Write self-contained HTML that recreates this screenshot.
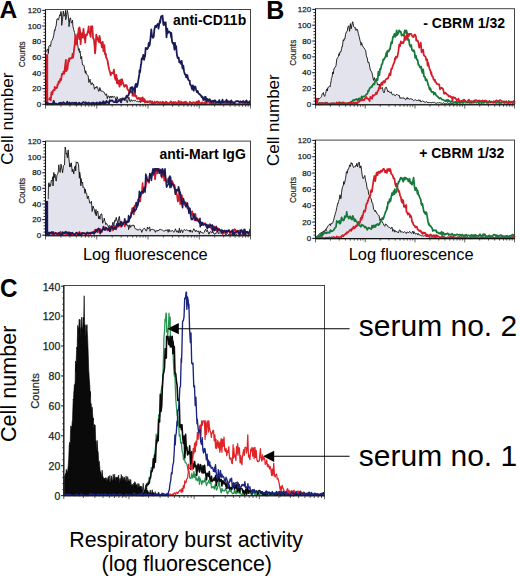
<!DOCTYPE html><html><head><meta charset="utf-8"><style>html,body{margin:0;padding:0;background:#fff;}svg{display:block;}</style></head><body><svg width="520" height="578" viewBox="0 0 520 578" font-family='"Liberation Sans", sans-serif'>
<rect width="520" height="578" fill="#fff"/>
<path d="M46.50,104.30 L46.50,51.70 L47.30,49.19 L48.10,49.36 L48.30,53.66 L48.90,46.01 L49.70,45.42 L50.50,46.40 L51.30,41.36 L52.10,40.24 L52.90,38.70 L53.70,35.47 L54.50,29.79 L55.20,30.40 L55.30,28.14 L56.10,25.99 L56.90,19.16 L57.50,18.64 L57.70,19.43 L58.50,19.73 L59.30,16.54 L59.80,14.75 L60.10,16.07 L60.90,11.52 L61.50,13.19 L61.70,25.35 L62.50,19.81 L63.30,11.02 L64.10,16.25 L64.30,15.14 L64.90,15.20 L65.60,10.40 L65.70,19.75 L66.50,16.16 L67.30,10.40 L67.50,11.26 L68.10,14.28 L68.90,22.35 L69.00,26.68 L69.70,19.20 L70.50,17.85 L71.30,23.13 L72.10,21.99 L72.50,20.27 L72.90,26.23 L73.70,29.50 L74.50,32.50 L75.30,36.31 L76.00,41.12 L76.10,38.13 L76.90,39.99 L77.70,44.40 L78.50,50.38 L79.30,48.70 L79.40,52.49 L80.10,51.05 L80.90,59.05 L81.70,56.50 L81.80,59.28 L82.50,64.80 L83.30,65.12 L83.50,64.89 L84.10,66.05 L84.90,71.28 L85.50,73.22 L85.70,70.71 L86.50,74.31 L87.30,74.83 L88.10,75.59 L88.90,82.47 L89.70,80.40 L90.00,79.17 L90.50,82.78 L91.30,84.70 L92.10,82.64 L92.90,84.54 L93.70,84.31 L94.00,86.93 L94.50,89.22 L95.30,87.11 L96.10,88.09 L96.90,86.30 L97.70,87.71 L98.50,91.26 L99.30,90.86 L99.80,87.53 L100.10,88.19 L100.90,91.24 L101.70,91.00 L102.50,91.11 L103.30,91.92 L104.10,92.14 L104.90,93.91 L105.50,95.05 L105.70,95.35 L106.50,93.73 L107.30,98.68 L108.10,95.95 L108.90,95.97 L109.70,98.23 L110.50,96.08 L111.30,97.66 L112.10,95.93 L112.90,97.52 L113.70,96.78 L114.50,96.38 L115.30,97.74 L116.10,99.58 L116.90,100.63 L117.00,96.69 L117.70,99.03 L118.50,99.80 L119.30,98.88 L120.10,99.36 L120.90,98.20 L121.70,99.25 L122.50,99.36 L123.30,100.29 L124.10,98.99 L124.80,100.80 L124.90,98.84 L125.70,97.94 L126.50,101.53 L127.30,102.67 L128.10,99.24 L128.90,97.15 L129.70,101.23 L130.50,101.58 L131.30,99.61 L132.10,101.27 L132.50,100.94 L132.90,100.81 L133.70,99.92 L134.50,101.02 L135.30,100.35 L136.10,100.92 L136.90,101.71 L137.70,101.22 L138.50,101.96 L139.30,101.03 L140.10,102.28 L140.90,102.31 L141.70,99.77 L142.50,101.39 L143.30,101.47 L144.00,100.97 L144.10,101.92 L144.90,101.80 L145.70,101.24 L146.50,101.46 L147.30,102.95 L148.10,101.10 L148.90,102.55 L149.70,103.07 L150.50,102.99 L151.30,102.59 L152.10,100.82 L152.90,103.47 L153.70,102.34 L154.50,104.30 L155.30,102.64 L156.10,101.94 L156.90,103.01 L157.70,103.42 L158.50,102.78 L159.30,102.48 L160.00,102.59 L160.10,101.52 L160.90,102.99 L161.70,103.67 L162.50,103.32 L163.30,103.31 L164.10,103.20 L164.90,103.34 L165.70,103.21 L166.50,104.30 L167.30,102.77 L168.10,103.88 L168.90,104.30 L169.70,103.03 L170.50,102.55 L171.30,103.20 L172.10,103.48 L172.90,104.30 L173.70,101.58 L174.50,103.06 L175.30,104.30 L176.10,104.30 L176.90,103.73 L177.70,104.30 L178.50,103.73 L179.30,104.19 L180.00,103.09 L180.10,103.27 L180.90,104.30 L181.70,103.89 L182.50,104.30 L183.30,103.19 L184.10,103.82 L184.90,103.57 L185.70,104.30 L186.50,102.74 L187.30,102.62 L188.10,104.30 L188.90,103.71 L189.70,104.30 L190.50,103.98 L191.30,104.30 L192.10,102.76 L192.90,104.30 L193.70,104.18 L194.50,103.67 L195.30,104.30 L196.10,104.15 L196.90,104.30 L197.70,104.09 L198.50,104.30 L199.30,104.30 L200.10,104.15 L200.90,104.24 L201.70,103.99 L202.50,104.22 L203.30,103.56 L204.10,104.25 L204.90,104.13 L205.70,104.30 L206.50,104.30 L207.30,104.30 L208.10,103.74 L208.90,104.30 L209.70,104.30 L210.50,103.86 L211.30,103.84 L212.10,104.30 L212.90,104.30 L213.70,103.84 L214.50,103.94 L215.30,104.30 L216.10,103.64 L216.90,104.30 L217.70,104.30 L218.50,104.07 L219.30,104.24 L220.10,104.01 L220.90,104.30 L221.70,103.06 L222.50,104.30 L223.30,104.30 L224.10,103.79 L224.90,104.30 L225.70,103.97 L226.50,104.30 L227.30,104.21 L228.10,104.03 L228.90,104.30 L229.70,103.80 L230.50,104.30 L231.30,104.30 L232.10,104.16 L232.90,103.95 L233.70,104.30 L234.50,104.30 L235.30,103.87 L236.10,104.30 L236.90,104.30 L237.70,104.21 L238.50,104.30 L239.30,104.22 L240.10,104.27 L240.90,103.76 L241.70,104.30 L242.50,104.30 L243.30,104.09 L244.10,104.30 L244.90,102.65 L245.70,104.30 L246.50,104.30 L247.30,103.85 L248.10,104.30 L248.90,104.30 L249.70,104.00 L250.00,103.90 L250.00,104.30 Z" fill="#e3e3ed" stroke="none"/>
<path d="M46.50,51.70 L47.30,49.19 L48.10,49.36 L48.30,53.66 L48.90,46.01 L49.70,45.42 L50.50,46.40 L51.30,41.36 L52.10,40.24 L52.90,38.70 L53.70,35.47 L54.50,29.79 L55.20,30.40 L55.30,28.14 L56.10,25.99 L56.90,19.16 L57.50,18.64 L57.70,19.43 L58.50,19.73 L59.30,16.54 L59.80,14.75 L60.10,16.07 L60.90,11.52 L61.50,13.19 L61.70,25.35 L62.50,19.81 L63.30,11.02 L64.10,16.25 L64.30,15.14 L64.90,15.20 L65.60,10.40 L65.70,19.75 L66.50,16.16 L67.30,10.40 L67.50,11.26 L68.10,14.28 L68.90,22.35 L69.00,26.68 L69.70,19.20 L70.50,17.85 L71.30,23.13 L72.10,21.99 L72.50,20.27 L72.90,26.23 L73.70,29.50 L74.50,32.50 L75.30,36.31 L76.00,41.12 L76.10,38.13 L76.90,39.99 L77.70,44.40 L78.50,50.38 L79.30,48.70 L79.40,52.49 L80.10,51.05 L80.90,59.05 L81.70,56.50 L81.80,59.28 L82.50,64.80 L83.30,65.12 L83.50,64.89 L84.10,66.05 L84.90,71.28 L85.50,73.22 L85.70,70.71 L86.50,74.31 L87.30,74.83 L88.10,75.59 L88.90,82.47 L89.70,80.40 L90.00,79.17 L90.50,82.78 L91.30,84.70 L92.10,82.64 L92.90,84.54 L93.70,84.31 L94.00,86.93 L94.50,89.22 L95.30,87.11 L96.10,88.09 L96.90,86.30 L97.70,87.71 L98.50,91.26 L99.30,90.86 L99.80,87.53 L100.10,88.19 L100.90,91.24 L101.70,91.00 L102.50,91.11 L103.30,91.92 L104.10,92.14 L104.90,93.91 L105.50,95.05 L105.70,95.35 L106.50,93.73 L107.30,98.68 L108.10,95.95 L108.90,95.97 L109.70,98.23 L110.50,96.08 L111.30,97.66 L112.10,95.93 L112.90,97.52 L113.70,96.78 L114.50,96.38 L115.30,97.74 L116.10,99.58 L116.90,100.63 L117.00,96.69 L117.70,99.03 L118.50,99.80 L119.30,98.88 L120.10,99.36 L120.90,98.20 L121.70,99.25 L122.50,99.36 L123.30,100.29 L124.10,98.99 L124.80,100.80 L124.90,98.84 L125.70,97.94 L126.50,101.53 L127.30,102.67 L128.10,99.24 L128.90,97.15 L129.70,101.23 L130.50,101.58 L131.30,99.61 L132.10,101.27 L132.50,100.94 L132.90,100.81 L133.70,99.92 L134.50,101.02 L135.30,100.35 L136.10,100.92 L136.90,101.71 L137.70,101.22 L138.50,101.96 L139.30,101.03 L140.10,102.28 L140.90,102.31 L141.70,99.77 L142.50,101.39 L143.30,101.47 L144.00,100.97 L144.10,101.92 L144.90,101.80 L145.70,101.24 L146.50,101.46 L147.30,102.95 L148.10,101.10 L148.90,102.55 L149.70,103.07 L150.50,102.99 L151.30,102.59 L152.10,100.82 L152.90,103.47 L153.70,102.34 L154.50,104.30 L155.30,102.64 L156.10,101.94 L156.90,103.01 L157.70,103.42 L158.50,102.78 L159.30,102.48 L160.00,102.59 L160.10,101.52 L160.90,102.99 L161.70,103.67 L162.50,103.32 L163.30,103.31 L164.10,103.20 L164.90,103.34 L165.70,103.21 L166.50,104.30 L167.30,102.77 L168.10,103.88 L168.90,104.30 L169.70,103.03 L170.50,102.55 L171.30,103.20 L172.10,103.48 L172.90,104.30 L173.70,101.58 L174.50,103.06 L175.30,104.30 L176.10,104.30 L176.90,103.73 L177.70,104.30 L178.50,103.73 L179.30,104.19 L180.00,103.09 L180.10,103.27 L180.90,104.30 L181.70,103.89 L182.50,104.30 L183.30,103.19 L184.10,103.82 L184.90,103.57 L185.70,104.30 L186.50,102.74 L187.30,102.62 L188.10,104.30 L188.90,103.71 L189.70,104.30 L190.50,103.98 L191.30,104.30 L192.10,102.76 L192.90,104.30 L193.70,104.18 L194.50,103.67 L195.30,104.30 L196.10,104.15 L196.90,104.30 L197.70,104.09 L198.50,104.30 L199.30,104.30 L200.10,104.15 L200.90,104.24 L201.70,103.99 L202.50,104.22 L203.30,103.56 L204.10,104.25 L204.90,104.13 L205.70,104.30 L206.50,104.30 L207.30,104.30 L208.10,103.74 L208.90,104.30 L209.70,104.30 L210.50,103.86 L211.30,103.84 L212.10,104.30 L212.90,104.30 L213.70,103.84 L214.50,103.94 L215.30,104.30 L216.10,103.64 L216.90,104.30 L217.70,104.30 L218.50,104.07 L219.30,104.24 L220.10,104.01 L220.90,104.30 L221.70,103.06 L222.50,104.30 L223.30,104.30 L224.10,103.79 L224.90,104.30 L225.70,103.97 L226.50,104.30 L227.30,104.21 L228.10,104.03 L228.90,104.30 L229.70,103.80 L230.50,104.30 L231.30,104.30 L232.10,104.16 L232.90,103.95 L233.70,104.30 L234.50,104.30 L235.30,103.87 L236.10,104.30 L236.90,104.30 L237.70,104.21 L238.50,104.30 L239.30,104.22 L240.10,104.27 L240.90,103.76 L241.70,104.30 L242.50,104.30 L243.30,104.09 L244.10,104.30 L244.90,102.65 L245.70,104.30 L246.50,104.30 L247.30,103.85 L248.10,104.30 L248.90,104.30 L249.70,104.00 L250.00,103.90" fill="none" stroke="#111" stroke-width="0.9"/>
<rect x="46" y="54.22" width="2.2" height="50.08" fill="#d21c28"/>
<path d="M48.30,99.34 L49.10,99.28 L49.90,98.05 L50.70,100.37 L51.50,92.03 L51.70,92.88 L52.30,94.30 L53.10,90.56 L53.90,89.88 L54.60,90.22 L54.70,86.83 L55.50,88.63 L56.30,87.71 L57.10,87.82 L57.50,84.47 L57.90,84.86 L58.70,81.51 L59.50,82.58 L60.30,78.93 L61.10,80.12 L61.90,73.95 L62.70,74.20 L63.20,72.85 L63.50,71.78 L64.30,73.67 L65.10,66.11 L65.90,59.88 L66.00,71.03 L66.70,70.46 L67.50,68.76 L68.30,60.27 L69.00,61.63 L69.10,58.41 L69.90,58.35 L70.70,58.84 L71.50,57.41 L72.30,57.75 L72.50,53.93 L73.10,57.73 L73.90,51.19 L74.70,44.64 L75.40,35.05 L75.50,44.66 L76.30,44.33 L77.10,40.78 L77.50,33.98 L77.90,37.40 L78.70,28.49 L79.40,39.19 L79.50,27.51 L80.30,32.71 L80.60,44.12 L81.10,37.81 L81.90,33.38 L82.70,37.54 L83.00,33.86 L83.50,28.88 L84.30,37.78 L85.10,40.60 L85.20,42.58 L85.90,34.71 L86.70,35.41 L87.50,32.71 L88.30,29.77 L88.70,26.28 L89.10,32.17 L89.90,33.53 L90.70,36.77 L91.00,26.28 L91.50,27.86 L92.30,26.28 L92.70,32.74 L93.10,38.45 L93.90,39.23 L94.70,46.93 L95.00,53.30 L95.50,49.20 L96.30,34.62 L96.80,37.18 L97.10,37.03 L97.90,39.98 L98.70,41.83 L99.50,35.91 L100.20,39.99 L100.30,42.79 L101.10,42.46 L101.90,47.45 L102.50,44.91 L102.70,41.94 L103.50,51.24 L104.30,45.11 L105.10,54.65 L105.90,53.82 L106.00,57.51 L106.70,58.18 L107.50,60.50 L108.30,65.25 L109.10,69.25 L109.40,70.35 L109.90,71.68 L110.70,75.31 L111.50,72.95 L112.30,72.55 L113.10,72.65 L113.20,73.57 L113.90,69.69 L114.70,76.66 L115.50,79.86 L116.30,75.00 L117.00,83.47 L117.10,78.42 L117.90,83.58 L118.70,80.61 L119.50,86.69 L120.30,79.90 L121.00,82.78 L121.10,84.85 L121.90,79.06 L122.70,81.96 L123.50,84.34 L124.30,86.84 L124.80,85.62 L125.10,86.17 L125.90,84.90 L126.70,85.51 L127.50,89.48 L128.30,89.94 L128.60,90.17 L129.10,92.52 L129.90,91.94 L130.70,91.96 L131.50,91.51 L132.30,91.44 L132.50,95.60 L133.10,93.56 L133.90,95.89 L134.70,92.10 L135.50,96.31 L136.30,95.97 L137.10,98.70 L137.90,98.89 L138.70,97.73 L139.50,99.03 L140.20,98.31 L140.30,101.14 L141.10,98.24 L141.90,100.77 L142.70,97.49 L143.50,100.55 L144.30,99.07 L145.00,102.55 L145.10,100.26 L145.90,102.08 L146.70,101.75 L147.50,101.31 L148.30,101.89 L149.10,101.39 L149.90,101.03 L150.70,101.33 L151.50,102.33 L152.00,103.79 L152.30,103.21 L153.10,102.60 L153.90,104.30 L154.70,101.67 L155.50,102.74 L156.30,102.79 L157.10,101.58 L157.90,101.91 L158.70,102.40 L159.50,103.67 L160.30,102.38 L161.10,102.38 L161.90,103.64 L162.70,101.76 L163.50,102.33 L164.30,104.30 L165.00,102.77 L165.10,104.12 L165.90,101.79 L166.70,102.11 L167.50,103.97 L168.30,103.76 L169.10,102.80 L169.90,103.14 L170.70,101.43 L171.50,102.19 L172.30,103.19 L173.10,102.35 L173.90,104.30 L174.70,102.62 L175.50,102.08 L176.30,103.10 L177.10,103.61 L177.90,102.38 L178.70,101.04 L179.50,102.73 L180.30,104.02 L181.10,101.54 L181.90,104.30 L182.70,102.45 L183.50,103.50 L184.30,102.05 L185.10,103.77 L185.90,101.67 L186.70,102.66 L187.50,104.30 L188.30,104.30 L189.10,103.26 L189.90,101.72 L190.70,102.84 L191.50,102.90 L192.30,103.19 L193.10,102.26 L193.90,102.61 L194.70,102.70 L195.50,103.92 L196.30,101.84 L197.10,101.68 L197.90,104.23 L198.70,100.78 L199.50,102.30 L200.30,103.46 L201.10,104.30 L201.90,102.37 L202.70,102.46 L203.50,103.57 L204.30,104.30 L205.10,101.93 L205.90,103.57 L206.70,103.46 L207.50,100.30 L208.30,100.99 L209.10,102.11 L209.90,103.45 L210.70,102.40 L211.50,104.30 L212.30,102.92 L213.10,103.75 L213.90,104.25 L214.70,104.30 L215.50,102.53 L216.30,102.95 L217.10,102.88 L217.90,102.24 L218.70,103.84 L219.50,104.21 L220.30,104.30 L221.10,103.36 L221.90,102.33 L222.70,103.19 L223.50,102.45 L224.30,104.17 L225.10,103.50 L225.90,103.78 L226.70,104.24 L227.50,101.31 L228.30,102.26 L229.10,103.79 L229.90,103.79 L230.70,103.13 L231.50,104.30 L232.30,102.67 L233.10,104.29 L233.90,103.43 L234.70,104.04 L235.50,103.54 L236.30,104.30 L237.10,104.30 L237.90,104.00 L238.70,103.73 L239.50,103.37 L240.30,103.03 L241.10,101.68 L241.90,102.35 L242.70,103.34 L243.50,102.43 L244.30,103.75 L245.10,101.76 L245.90,102.60 L246.70,104.30 L247.50,102.42 L248.30,102.36 L249.10,104.30 L249.90,103.82 L250.00,103.57" fill="none" stroke="#d21c28" stroke-width="1.8" stroke-linejoin="round"/>
<path d="M46.50,101.92 L47.30,104.30 L48.10,103.18 L48.90,103.95 L49.70,103.85 L50.50,103.66 L51.30,104.30 L52.10,103.66 L52.90,104.16 L53.70,100.83 L54.50,103.28 L55.30,103.73 L56.10,103.67 L56.90,103.97 L57.70,104.28 L58.50,103.74 L59.30,103.04 L60.10,103.61 L60.90,102.64 L61.70,103.57 L62.50,103.38 L63.30,102.15 L64.10,102.95 L64.90,103.79 L65.70,103.53 L66.50,102.93 L67.30,101.79 L68.10,103.58 L68.90,103.55 L69.70,102.53 L70.50,104.07 L71.30,103.57 L72.10,102.61 L72.90,102.85 L73.70,103.24 L74.50,102.76 L75.30,104.30 L76.10,102.46 L76.90,104.09 L77.70,104.30 L78.50,103.06 L79.30,102.70 L80.10,103.64 L80.90,104.16 L81.70,103.24 L82.50,103.30 L83.30,102.08 L84.10,102.62 L84.90,103.07 L85.70,102.30 L86.50,103.40 L87.30,103.99 L88.10,102.72 L88.90,102.72 L89.70,103.38 L90.50,103.85 L91.30,103.00 L92.10,104.30 L92.90,102.60 L93.70,102.76 L94.50,104.30 L95.30,103.11 L96.10,103.97 L96.90,102.51 L97.70,104.30 L98.50,103.92 L99.30,102.53 L100.00,102.14 L100.10,104.30 L100.90,103.44 L101.70,102.61 L102.50,103.35 L103.30,101.24 L104.10,103.70 L104.90,102.15 L105.70,103.39 L106.50,100.91 L107.30,102.20 L108.10,102.44 L108.90,103.70 L109.70,100.14 L110.50,100.98 L111.30,100.86 L112.10,100.35 L112.90,101.07 L113.70,102.03 L114.50,102.11 L115.30,102.01 L116.10,99.51 L116.90,102.56 L117.70,101.49 L118.50,101.08 L119.30,100.35 L120.10,99.84 L120.90,101.86 L121.00,102.41 L121.70,100.10 L122.50,98.29 L123.30,98.49 L124.10,98.84 L124.80,99.23 L124.90,98.34 L125.70,98.23 L126.50,95.91 L127.30,97.42 L128.10,95.22 L128.60,95.08 L128.90,93.60 L129.70,92.89 L130.50,87.70 L131.30,88.20 L132.10,86.91 L132.50,92.82 L132.90,89.49 L133.70,89.62 L134.50,87.09 L135.00,92.21 L135.30,85.04 L136.10,83.68 L136.90,86.97 L137.50,85.22 L137.70,84.09 L138.50,79.16 L139.30,74.63 L139.50,70.49 L140.10,72.08 L140.90,64.56 L141.25,63.97 L141.70,58.35 L142.50,58.93 L143.30,54.92 L144.10,59.80 L144.90,55.06 L145.00,56.64 L145.70,47.85 L146.50,48.29 L147.30,49.17 L148.10,47.57 L148.75,42.88 L148.90,46.30 L149.70,45.00 L150.50,38.28 L151.30,29.52 L152.10,36.54 L152.50,36.56 L152.90,37.85 L153.70,36.79 L154.50,28.64 L155.30,25.80 L156.10,27.11 L156.25,25.64 L156.90,25.33 L157.70,23.91 L158.50,28.66 L159.30,23.43 L160.00,20.16 L160.10,22.89 L160.90,17.03 L161.25,16.29 L161.70,16.45 L162.50,15.62 L163.30,23.94 L163.75,25.04 L164.10,22.24 L164.90,24.45 L165.70,22.33 L166.50,37.30 L167.30,28.53 L167.50,33.60 L168.10,32.45 L168.90,31.38 L169.70,31.91 L170.50,33.42 L171.25,37.66 L171.30,32.95 L172.10,41.68 L172.90,43.63 L173.70,43.05 L174.50,49.73 L175.00,42.85 L175.30,47.21 L176.10,45.95 L176.90,54.76 L177.70,57.96 L178.50,58.54 L178.75,57.62 L179.30,62.38 L180.10,61.18 L180.90,63.78 L181.70,60.91 L182.50,68.49 L183.30,65.70 L184.10,71.71 L184.90,74.14 L185.70,75.15 L186.25,77.42 L186.50,74.90 L187.30,75.04 L188.10,79.22 L188.90,80.41 L189.70,80.55 L190.00,84.19 L190.50,84.70 L191.30,86.20 L192.10,89.39 L192.90,85.30 L193.70,90.73 L194.50,86.67 L195.00,88.29 L195.30,86.53 L196.10,89.76 L196.90,92.10 L197.70,91.02 L198.50,93.58 L199.30,93.94 L200.00,94.45 L200.10,94.81 L200.90,95.49 L201.70,97.05 L202.50,96.67 L203.30,100.05 L204.10,97.82 L204.90,99.81 L205.00,96.78 L205.70,96.83 L206.50,101.31 L207.30,98.86 L208.10,99.47 L208.90,100.87 L209.70,99.20 L210.50,100.66 L211.30,102.45 L212.10,100.95 L212.50,100.95 L212.90,100.72 L213.70,102.34 L214.50,100.41 L215.30,100.41 L216.10,102.58 L216.90,102.17 L217.70,101.68 L218.50,102.31 L219.30,100.06 L220.00,101.74 L220.10,102.98 L220.90,102.76 L221.70,102.03 L222.50,99.67 L223.30,102.17 L224.10,101.88 L224.90,101.50 L225.70,102.07 L226.50,99.75 L227.30,102.58 L228.10,101.31 L228.90,101.91 L229.70,101.46 L230.50,103.26 L231.30,100.34 L232.10,102.23 L232.90,102.09 L233.70,103.06 L234.50,102.86 L235.30,101.59 L236.10,101.19 L236.90,101.43 L237.70,100.99 L238.50,101.49 L239.30,102.18 L240.10,101.39 L240.90,101.64 L241.70,102.33 L242.50,101.54 L243.30,101.00 L244.10,102.04 L244.90,102.62 L245.70,101.59 L246.50,100.45 L247.30,102.51 L248.10,102.41 L248.90,102.46 L249.70,101.16 L250.00,104.12" fill="none" stroke="#191a58" stroke-width="1.8" stroke-linejoin="round"/>
<rect x="45.5" y="9.5" width="205.0" height="95.3" fill="none" stroke="#444" stroke-width="1"/>
<line x1="45.5" y1="9.5" x2="45.5" y2="105.3" stroke="#111" stroke-width="1.1"/>
<line x1="45.5" y1="104.8" x2="250.5" y2="104.8" stroke="#111" stroke-width="1.1"/>
<line x1="42.30" y1="104.30" x2="45.5" y2="104.30" stroke="#222" stroke-width="1.1"/>
<text x="41.20" y="106.94" text-anchor="end" font-size="8" fill="#222" stroke="#222" stroke-width="0.25">0</text>
<line x1="43.50" y1="101.17" x2="45.5" y2="101.17" stroke="#222" stroke-width="0.95"/>
<line x1="43.50" y1="98.04" x2="45.5" y2="98.04" stroke="#222" stroke-width="0.95"/>
<line x1="43.50" y1="94.91" x2="45.5" y2="94.91" stroke="#222" stroke-width="0.95"/>
<line x1="43.50" y1="91.78" x2="45.5" y2="91.78" stroke="#222" stroke-width="0.95"/>
<line x1="42.30" y1="88.65" x2="45.5" y2="88.65" stroke="#222" stroke-width="1.1"/>
<text x="41.20" y="91.29" text-anchor="end" font-size="8" fill="#222" stroke="#222" stroke-width="0.25">20</text>
<line x1="43.50" y1="85.52" x2="45.5" y2="85.52" stroke="#222" stroke-width="0.95"/>
<line x1="43.50" y1="82.39" x2="45.5" y2="82.39" stroke="#222" stroke-width="0.95"/>
<line x1="43.50" y1="79.26" x2="45.5" y2="79.26" stroke="#222" stroke-width="0.95"/>
<line x1="43.50" y1="76.13" x2="45.5" y2="76.13" stroke="#222" stroke-width="0.95"/>
<line x1="42.30" y1="73.00" x2="45.5" y2="73.00" stroke="#222" stroke-width="1.1"/>
<text x="41.20" y="75.64" text-anchor="end" font-size="8" fill="#222" stroke="#222" stroke-width="0.25">40</text>
<line x1="43.50" y1="69.87" x2="45.5" y2="69.87" stroke="#222" stroke-width="0.95"/>
<line x1="43.50" y1="66.74" x2="45.5" y2="66.74" stroke="#222" stroke-width="0.95"/>
<line x1="43.50" y1="63.61" x2="45.5" y2="63.61" stroke="#222" stroke-width="0.95"/>
<line x1="43.50" y1="60.48" x2="45.5" y2="60.48" stroke="#222" stroke-width="0.95"/>
<line x1="42.30" y1="57.35" x2="45.5" y2="57.35" stroke="#222" stroke-width="1.1"/>
<text x="41.20" y="59.99" text-anchor="end" font-size="8" fill="#222" stroke="#222" stroke-width="0.25">60</text>
<line x1="43.50" y1="54.22" x2="45.5" y2="54.22" stroke="#222" stroke-width="0.95"/>
<line x1="43.50" y1="51.09" x2="45.5" y2="51.09" stroke="#222" stroke-width="0.95"/>
<line x1="43.50" y1="47.96" x2="45.5" y2="47.96" stroke="#222" stroke-width="0.95"/>
<line x1="43.50" y1="44.83" x2="45.5" y2="44.83" stroke="#222" stroke-width="0.95"/>
<line x1="42.30" y1="41.70" x2="45.5" y2="41.70" stroke="#222" stroke-width="1.1"/>
<text x="41.20" y="44.34" text-anchor="end" font-size="8" fill="#222" stroke="#222" stroke-width="0.25">80</text>
<line x1="43.50" y1="38.57" x2="45.5" y2="38.57" stroke="#222" stroke-width="0.95"/>
<line x1="43.50" y1="35.44" x2="45.5" y2="35.44" stroke="#222" stroke-width="0.95"/>
<line x1="43.50" y1="32.31" x2="45.5" y2="32.31" stroke="#222" stroke-width="0.95"/>
<line x1="43.50" y1="29.18" x2="45.5" y2="29.18" stroke="#222" stroke-width="0.95"/>
<line x1="42.30" y1="26.05" x2="45.5" y2="26.05" stroke="#222" stroke-width="1.1"/>
<text x="41.20" y="28.69" text-anchor="end" font-size="8" fill="#222" stroke="#222" stroke-width="0.25">100</text>
<line x1="43.50" y1="22.92" x2="45.5" y2="22.92" stroke="#222" stroke-width="0.95"/>
<line x1="43.50" y1="19.79" x2="45.5" y2="19.79" stroke="#222" stroke-width="0.95"/>
<line x1="43.50" y1="16.66" x2="45.5" y2="16.66" stroke="#222" stroke-width="0.95"/>
<line x1="43.50" y1="13.53" x2="45.5" y2="13.53" stroke="#222" stroke-width="0.95"/>
<line x1="42.30" y1="10.40" x2="45.5" y2="10.40" stroke="#222" stroke-width="1.1"/>
<text x="41.20" y="13.04" text-anchor="end" font-size="8" fill="#222" stroke="#222" stroke-width="0.25">120</text>
<line x1="45.50" y1="104.8" x2="45.50" y2="108.60" stroke="#222" stroke-width="0.7"/>
<line x1="60.93" y1="104.8" x2="60.93" y2="106.80" stroke="#222" stroke-width="0.7"/>
<line x1="69.95" y1="104.8" x2="69.95" y2="106.80" stroke="#222" stroke-width="0.7"/>
<line x1="76.36" y1="104.8" x2="76.36" y2="106.80" stroke="#222" stroke-width="0.7"/>
<line x1="81.32" y1="104.8" x2="81.32" y2="106.80" stroke="#222" stroke-width="0.7"/>
<line x1="85.38" y1="104.8" x2="85.38" y2="106.80" stroke="#222" stroke-width="0.7"/>
<line x1="88.81" y1="104.8" x2="88.81" y2="106.80" stroke="#222" stroke-width="0.7"/>
<line x1="91.78" y1="104.8" x2="91.78" y2="106.80" stroke="#222" stroke-width="0.7"/>
<line x1="94.40" y1="104.8" x2="94.40" y2="106.80" stroke="#222" stroke-width="0.7"/>
<line x1="96.75" y1="104.8" x2="96.75" y2="108.60" stroke="#222" stroke-width="0.7"/>
<line x1="112.18" y1="104.8" x2="112.18" y2="106.80" stroke="#222" stroke-width="0.7"/>
<line x1="121.20" y1="104.8" x2="121.20" y2="106.80" stroke="#222" stroke-width="0.7"/>
<line x1="127.61" y1="104.8" x2="127.61" y2="106.80" stroke="#222" stroke-width="0.7"/>
<line x1="132.57" y1="104.8" x2="132.57" y2="106.80" stroke="#222" stroke-width="0.7"/>
<line x1="136.63" y1="104.8" x2="136.63" y2="106.80" stroke="#222" stroke-width="0.7"/>
<line x1="140.06" y1="104.8" x2="140.06" y2="106.80" stroke="#222" stroke-width="0.7"/>
<line x1="143.03" y1="104.8" x2="143.03" y2="106.80" stroke="#222" stroke-width="0.7"/>
<line x1="145.65" y1="104.8" x2="145.65" y2="106.80" stroke="#222" stroke-width="0.7"/>
<line x1="148.00" y1="104.8" x2="148.00" y2="108.60" stroke="#222" stroke-width="0.7"/>
<line x1="163.43" y1="104.8" x2="163.43" y2="106.80" stroke="#222" stroke-width="0.7"/>
<line x1="172.45" y1="104.8" x2="172.45" y2="106.80" stroke="#222" stroke-width="0.7"/>
<line x1="178.86" y1="104.8" x2="178.86" y2="106.80" stroke="#222" stroke-width="0.7"/>
<line x1="183.82" y1="104.8" x2="183.82" y2="106.80" stroke="#222" stroke-width="0.7"/>
<line x1="187.88" y1="104.8" x2="187.88" y2="106.80" stroke="#222" stroke-width="0.7"/>
<line x1="191.31" y1="104.8" x2="191.31" y2="106.80" stroke="#222" stroke-width="0.7"/>
<line x1="194.28" y1="104.8" x2="194.28" y2="106.80" stroke="#222" stroke-width="0.7"/>
<line x1="196.90" y1="104.8" x2="196.90" y2="106.80" stroke="#222" stroke-width="0.7"/>
<line x1="199.25" y1="104.8" x2="199.25" y2="108.60" stroke="#222" stroke-width="0.7"/>
<line x1="214.68" y1="104.8" x2="214.68" y2="106.80" stroke="#222" stroke-width="0.7"/>
<line x1="223.70" y1="104.8" x2="223.70" y2="106.80" stroke="#222" stroke-width="0.7"/>
<line x1="230.11" y1="104.8" x2="230.11" y2="106.80" stroke="#222" stroke-width="0.7"/>
<line x1="235.07" y1="104.8" x2="235.07" y2="106.80" stroke="#222" stroke-width="0.7"/>
<line x1="239.13" y1="104.8" x2="239.13" y2="106.80" stroke="#222" stroke-width="0.7"/>
<line x1="242.56" y1="104.8" x2="242.56" y2="106.80" stroke="#222" stroke-width="0.7"/>
<line x1="245.53" y1="104.8" x2="245.53" y2="106.80" stroke="#222" stroke-width="0.7"/>
<line x1="248.15" y1="104.8" x2="248.15" y2="106.80" stroke="#222" stroke-width="0.7"/>
<line x1="250.50" y1="104.8" x2="250.50" y2="108.60" stroke="#222" stroke-width="0.7"/>
<text transform="translate(24.6,54.3) rotate(-90)" text-anchor="middle" font-size="8.2" fill="#222" stroke="#222" stroke-width="0.2">Counts</text>
<path d="M48.20,235.20 L48.20,199.18 L48.50,183.36 L49.00,182.70 L49.80,186.94 L50.50,184.71 L50.60,185.34 L51.40,180.03 L52.20,180.82 L52.90,176.65 L53.00,185.97 L53.80,172.45 L54.60,177.51 L55.00,174.11 L55.40,178.18 L56.20,181.14 L56.50,178.87 L57.00,174.69 L57.80,173.99 L58.60,169.31 L58.80,164.87 L59.40,170.52 L60.20,172.43 L61.00,164.12 L61.80,168.03 L62.60,172.69 L63.20,167.97 L63.40,165.66 L64.20,165.01 L64.50,164.92 L65.00,150.15 L65.20,146.97 L65.80,150.33 L66.20,154.11 L66.60,153.13 L67.00,155.68 L67.40,157.76 L68.00,150.87 L68.20,149.92 L69.00,159.93 L69.80,167.05 L70.00,163.53 L70.60,166.60 L71.40,162.82 L72.20,171.89 L72.80,169.12 L73.00,169.93 L73.80,173.91 L74.60,166.96 L75.40,165.80 L75.70,170.96 L76.20,161.79 L77.00,162.78 L77.80,162.32 L77.90,163.07 L78.60,164.89 L79.40,178.24 L79.60,171.98 L80.20,174.40 L80.90,185.80 L81.00,178.43 L81.80,183.11 L82.60,182.02 L83.00,187.52 L83.40,186.97 L84.20,187.54 L85.00,193.38 L85.30,189.20 L85.80,192.90 L86.60,193.24 L87.40,198.65 L88.20,196.01 L89.00,199.25 L89.80,203.29 L90.60,202.75 L91.20,202.36 L91.40,201.18 L92.20,211.51 L93.00,206.00 L93.80,208.26 L94.60,210.84 L95.40,214.26 L96.00,209.43 L96.20,215.86 L97.00,212.07 L97.80,211.03 L98.60,218.70 L99.40,216.32 L100.00,219.18 L100.20,215.83 L101.00,213.98 L101.80,213.93 L102.60,223.23 L103.40,221.60 L104.00,219.70 L104.20,218.13 L105.00,221.41 L105.80,224.58 L106.60,223.46 L107.40,224.94 L108.20,226.15 L108.80,227.72 L109.00,225.70 L109.80,225.50 L110.30,225.99 L110.60,226.06 L111.40,227.56 L112.20,225.70 L113.00,222.13 L113.20,224.62 L113.80,226.49 L114.60,220.45 L115.40,221.30 L116.20,217.38 L117.00,220.83 L117.60,221.41 L117.80,223.60 L118.60,218.36 L119.40,216.38 L120.20,223.76 L121.00,223.91 L121.80,222.00 L122.60,225.26 L122.80,224.31 L123.40,224.67 L124.20,223.93 L125.00,222.54 L125.80,224.81 L126.60,223.46 L127.40,226.16 L128.20,225.11 L128.60,229.61 L129.00,228.49 L129.80,224.76 L130.60,227.39 L131.40,225.59 L132.20,225.88 L133.00,224.79 L133.80,225.88 L134.40,225.71 L134.60,227.65 L135.40,228.88 L136.20,229.20 L137.00,229.07 L137.80,230.34 L138.60,229.70 L139.40,229.28 L140.20,229.05 L141.00,229.98 L141.80,232.38 L142.60,229.70 L143.40,229.32 L144.20,228.12 L145.00,228.92 L145.80,230.76 L146.60,230.93 L147.40,227.04 L148.20,228.91 L149.00,227.43 L149.80,227.07 L150.00,231.29 L150.60,229.59 L151.40,229.50 L152.20,229.37 L153.00,229.41 L153.80,229.91 L154.60,229.97 L155.40,232.35 L156.20,230.48 L157.00,231.32 L157.80,230.10 L158.60,230.95 L159.40,229.44 L160.20,229.17 L161.00,229.91 L161.80,229.91 L162.60,230.24 L163.40,231.01 L164.20,230.63 L165.00,231.11 L165.80,229.89 L166.60,230.43 L167.40,229.66 L168.20,232.33 L169.00,229.26 L169.80,231.57 L170.00,231.53 L170.60,230.80 L171.40,231.32 L172.20,230.16 L173.00,231.37 L173.80,232.06 L174.60,231.77 L175.40,228.81 L176.20,230.58 L177.00,232.25 L177.80,230.66 L178.60,232.81 L179.40,228.25 L180.20,232.80 L181.00,230.08 L181.80,230.00 L182.60,232.74 L183.40,230.37 L184.20,229.44 L185.00,230.17 L185.80,230.47 L186.60,229.55 L187.40,230.64 L188.20,230.42 L189.00,231.06 L189.80,230.05 L190.00,232.17 L190.60,229.86 L191.40,231.62 L192.20,232.43 L193.00,230.49 L193.80,228.74 L194.60,229.74 L195.40,231.73 L196.20,230.14 L197.00,231.69 L197.80,231.27 L198.60,231.01 L199.40,234.21 L200.20,230.92 L201.00,232.55 L201.80,232.13 L202.60,233.17 L203.40,233.24 L204.20,232.51 L205.00,230.22 L205.80,229.27 L206.60,231.58 L207.40,230.29 L208.20,232.13 L209.00,234.28 L209.80,231.86 L210.60,231.63 L211.40,232.81 L212.20,232.06 L213.00,231.88 L213.80,233.66 L214.60,234.46 L215.00,233.10 L215.40,233.15 L216.20,233.43 L217.00,232.11 L217.80,231.48 L218.60,233.85 L219.40,232.84 L220.20,232.74 L221.00,233.10 L221.80,232.93 L222.60,234.40 L223.40,233.50 L224.20,232.53 L225.00,233.74 L225.80,234.96 L226.60,233.95 L227.40,233.42 L228.20,234.18 L229.00,234.97 L229.80,233.26 L230.60,235.20 L231.40,234.15 L232.20,234.59 L233.00,235.20 L233.80,233.64 L234.60,234.35 L235.40,235.20 L236.20,234.20 L237.00,235.02 L237.80,235.20 L238.60,235.20 L239.40,234.53 L240.20,234.27 L241.00,234.65 L241.80,234.75 L242.60,234.46 L243.40,234.98 L244.20,233.99 L245.00,234.75 L245.80,234.67 L246.60,234.51 L247.40,235.20 L248.20,235.20 L249.00,233.90 L249.80,234.73 L250.00,235.16 L250.00,235.20 Z" fill="#e3e3ed" stroke="none"/>
<path d="M48.20,199.18 L48.50,183.36 L49.00,182.70 L49.80,186.94 L50.50,184.71 L50.60,185.34 L51.40,180.03 L52.20,180.82 L52.90,176.65 L53.00,185.97 L53.80,172.45 L54.60,177.51 L55.00,174.11 L55.40,178.18 L56.20,181.14 L56.50,178.87 L57.00,174.69 L57.80,173.99 L58.60,169.31 L58.80,164.87 L59.40,170.52 L60.20,172.43 L61.00,164.12 L61.80,168.03 L62.60,172.69 L63.20,167.97 L63.40,165.66 L64.20,165.01 L64.50,164.92 L65.00,150.15 L65.20,146.97 L65.80,150.33 L66.20,154.11 L66.60,153.13 L67.00,155.68 L67.40,157.76 L68.00,150.87 L68.20,149.92 L69.00,159.93 L69.80,167.05 L70.00,163.53 L70.60,166.60 L71.40,162.82 L72.20,171.89 L72.80,169.12 L73.00,169.93 L73.80,173.91 L74.60,166.96 L75.40,165.80 L75.70,170.96 L76.20,161.79 L77.00,162.78 L77.80,162.32 L77.90,163.07 L78.60,164.89 L79.40,178.24 L79.60,171.98 L80.20,174.40 L80.90,185.80 L81.00,178.43 L81.80,183.11 L82.60,182.02 L83.00,187.52 L83.40,186.97 L84.20,187.54 L85.00,193.38 L85.30,189.20 L85.80,192.90 L86.60,193.24 L87.40,198.65 L88.20,196.01 L89.00,199.25 L89.80,203.29 L90.60,202.75 L91.20,202.36 L91.40,201.18 L92.20,211.51 L93.00,206.00 L93.80,208.26 L94.60,210.84 L95.40,214.26 L96.00,209.43 L96.20,215.86 L97.00,212.07 L97.80,211.03 L98.60,218.70 L99.40,216.32 L100.00,219.18 L100.20,215.83 L101.00,213.98 L101.80,213.93 L102.60,223.23 L103.40,221.60 L104.00,219.70 L104.20,218.13 L105.00,221.41 L105.80,224.58 L106.60,223.46 L107.40,224.94 L108.20,226.15 L108.80,227.72 L109.00,225.70 L109.80,225.50 L110.30,225.99 L110.60,226.06 L111.40,227.56 L112.20,225.70 L113.00,222.13 L113.20,224.62 L113.80,226.49 L114.60,220.45 L115.40,221.30 L116.20,217.38 L117.00,220.83 L117.60,221.41 L117.80,223.60 L118.60,218.36 L119.40,216.38 L120.20,223.76 L121.00,223.91 L121.80,222.00 L122.60,225.26 L122.80,224.31 L123.40,224.67 L124.20,223.93 L125.00,222.54 L125.80,224.81 L126.60,223.46 L127.40,226.16 L128.20,225.11 L128.60,229.61 L129.00,228.49 L129.80,224.76 L130.60,227.39 L131.40,225.59 L132.20,225.88 L133.00,224.79 L133.80,225.88 L134.40,225.71 L134.60,227.65 L135.40,228.88 L136.20,229.20 L137.00,229.07 L137.80,230.34 L138.60,229.70 L139.40,229.28 L140.20,229.05 L141.00,229.98 L141.80,232.38 L142.60,229.70 L143.40,229.32 L144.20,228.12 L145.00,228.92 L145.80,230.76 L146.60,230.93 L147.40,227.04 L148.20,228.91 L149.00,227.43 L149.80,227.07 L150.00,231.29 L150.60,229.59 L151.40,229.50 L152.20,229.37 L153.00,229.41 L153.80,229.91 L154.60,229.97 L155.40,232.35 L156.20,230.48 L157.00,231.32 L157.80,230.10 L158.60,230.95 L159.40,229.44 L160.20,229.17 L161.00,229.91 L161.80,229.91 L162.60,230.24 L163.40,231.01 L164.20,230.63 L165.00,231.11 L165.80,229.89 L166.60,230.43 L167.40,229.66 L168.20,232.33 L169.00,229.26 L169.80,231.57 L170.00,231.53 L170.60,230.80 L171.40,231.32 L172.20,230.16 L173.00,231.37 L173.80,232.06 L174.60,231.77 L175.40,228.81 L176.20,230.58 L177.00,232.25 L177.80,230.66 L178.60,232.81 L179.40,228.25 L180.20,232.80 L181.00,230.08 L181.80,230.00 L182.60,232.74 L183.40,230.37 L184.20,229.44 L185.00,230.17 L185.80,230.47 L186.60,229.55 L187.40,230.64 L188.20,230.42 L189.00,231.06 L189.80,230.05 L190.00,232.17 L190.60,229.86 L191.40,231.62 L192.20,232.43 L193.00,230.49 L193.80,228.74 L194.60,229.74 L195.40,231.73 L196.20,230.14 L197.00,231.69 L197.80,231.27 L198.60,231.01 L199.40,234.21 L200.20,230.92 L201.00,232.55 L201.80,232.13 L202.60,233.17 L203.40,233.24 L204.20,232.51 L205.00,230.22 L205.80,229.27 L206.60,231.58 L207.40,230.29 L208.20,232.13 L209.00,234.28 L209.80,231.86 L210.60,231.63 L211.40,232.81 L212.20,232.06 L213.00,231.88 L213.80,233.66 L214.60,234.46 L215.00,233.10 L215.40,233.15 L216.20,233.43 L217.00,232.11 L217.80,231.48 L218.60,233.85 L219.40,232.84 L220.20,232.74 L221.00,233.10 L221.80,232.93 L222.60,234.40 L223.40,233.50 L224.20,232.53 L225.00,233.74 L225.80,234.96 L226.60,233.95 L227.40,233.42 L228.20,234.18 L229.00,234.97 L229.80,233.26 L230.60,235.20 L231.40,234.15 L232.20,234.59 L233.00,235.20 L233.80,233.64 L234.60,234.35 L235.40,235.20 L236.20,234.20 L237.00,235.02 L237.80,235.20 L238.60,235.20 L239.40,234.53 L240.20,234.27 L241.00,234.65 L241.80,234.75 L242.60,234.46 L243.40,234.98 L244.20,233.99 L245.00,234.75 L245.80,234.67 L246.60,234.51 L247.40,235.20 L248.20,235.20 L249.00,233.90 L249.80,234.73 L250.00,235.16" fill="none" stroke="#111" stroke-width="0.9"/>
<rect x="46" y="200.84" width="2.2" height="34.36" fill="#191a58"/>
<path d="M48.20,233.65 L49.00,232.59 L49.80,232.90 L50.60,232.92 L51.40,232.02 L52.20,234.84 L53.00,234.26 L53.80,234.96 L54.60,233.75 L55.40,232.64 L56.20,233.66 L57.00,233.14 L57.80,235.20 L58.60,233.49 L59.40,234.54 L60.20,231.87 L61.00,232.75 L61.80,232.69 L62.60,233.70 L63.40,233.03 L64.20,232.98 L65.00,233.98 L65.80,234.13 L66.60,233.75 L67.40,234.24 L68.20,234.23 L69.00,233.92 L69.80,234.37 L70.60,232.87 L71.40,235.20 L72.20,232.82 L73.00,234.26 L73.80,234.18 L74.60,234.99 L75.40,233.78 L76.20,233.89 L77.00,233.45 L77.80,234.17 L78.60,233.54 L79.40,231.82 L80.20,233.23 L81.00,234.21 L81.80,232.69 L82.60,233.77 L83.40,233.05 L84.20,233.03 L85.00,234.03 L85.80,235.20 L86.60,233.99 L87.40,233.09 L88.20,234.02 L89.00,233.20 L89.80,232.66 L90.60,234.18 L91.40,232.41 L92.20,232.02 L93.00,232.56 L93.80,232.47 L94.00,232.54 L94.60,230.13 L95.40,231.21 L96.00,230.51 L96.20,229.64 L97.00,231.60 L97.80,232.37 L98.60,231.28 L99.40,229.32 L100.20,229.02 L101.00,231.82 L101.70,232.22 L101.80,229.88 L102.60,229.60 L103.40,229.31 L104.20,228.13 L105.00,227.19 L105.80,228.61 L106.60,227.93 L107.40,230.48 L108.20,230.52 L109.00,228.24 L109.40,227.53 L109.80,227.32 L110.60,227.31 L111.40,226.79 L112.20,226.53 L113.00,230.50 L113.80,228.64 L114.60,226.47 L115.40,226.02 L116.20,229.38 L117.00,224.60 L117.80,226.90 L118.60,226.06 L119.40,224.67 L120.20,223.31 L121.00,226.89 L121.80,221.84 L122.60,223.10 L123.40,224.28 L124.20,222.83 L124.80,226.33 L125.00,223.13 L125.80,221.04 L126.60,222.47 L127.40,221.28 L128.20,220.49 L128.60,219.87 L129.00,217.00 L129.80,217.75 L130.60,216.77 L131.40,213.36 L132.20,208.02 L132.50,213.41 L133.00,210.44 L133.80,214.49 L134.60,205.56 L135.40,206.02 L136.20,202.82 L136.30,206.47 L137.00,207.56 L137.80,200.15 L138.60,198.56 L139.40,201.48 L140.20,201.49 L141.00,193.74 L141.80,193.92 L142.60,183.04 L143.00,192.72 L143.40,191.21 L144.20,187.32 L145.00,190.26 L145.80,186.33 L146.60,176.09 L147.40,181.17 L148.20,181.66 L149.00,182.87 L149.80,174.80 L150.00,174.19 L150.60,175.02 L151.40,176.57 L152.20,173.08 L153.00,171.91 L153.80,175.09 L154.60,169.21 L155.00,179.34 L155.40,175.79 L156.20,171.23 L157.00,169.72 L157.50,173.40 L157.80,168.83 L158.60,168.83 L159.40,169.06 L160.20,170.78 L161.00,169.30 L161.25,171.19 L161.80,177.76 L162.60,175.18 L163.40,170.58 L164.20,180.65 L165.00,177.19 L165.80,179.23 L166.60,181.47 L167.40,182.25 L168.20,178.55 L169.00,178.14 L169.80,178.55 L170.00,185.01 L170.60,182.02 L171.40,181.38 L172.20,180.92 L173.00,183.53 L173.80,184.65 L174.60,185.43 L175.00,187.17 L175.40,193.17 L176.20,191.41 L177.00,195.03 L177.80,201.46 L178.60,200.28 L179.40,189.58 L180.00,200.39 L180.20,204.16 L181.00,200.28 L181.80,195.20 L182.60,201.13 L183.40,201.06 L184.20,204.27 L185.00,204.98 L185.80,202.37 L186.60,204.83 L187.40,208.35 L188.20,206.90 L189.00,207.60 L189.80,212.05 L190.00,211.09 L190.60,211.75 L191.40,214.84 L192.20,211.22 L193.00,215.22 L193.80,217.08 L194.60,220.31 L195.00,219.74 L195.40,213.80 L196.20,220.60 L197.00,217.94 L197.80,220.48 L198.60,219.43 L199.40,220.08 L200.00,223.49 L200.20,222.65 L201.00,222.45 L201.80,223.00 L202.60,223.85 L203.40,224.95 L204.20,223.79 L205.00,223.16 L205.80,224.84 L206.60,227.38 L207.40,225.68 L208.20,226.55 L209.00,226.15 L209.80,224.14 L210.60,227.85 L211.40,227.80 L212.20,229.49 L212.50,228.63 L213.00,229.23 L213.80,226.08 L214.60,228.36 L215.40,229.95 L216.20,226.44 L217.00,231.54 L217.80,228.58 L218.60,228.63 L219.40,229.52 L220.00,230.88 L220.20,230.72 L221.00,231.10 L221.80,229.65 L222.60,233.98 L223.40,231.60 L224.20,230.80 L225.00,231.87 L225.80,233.59 L226.60,231.61 L227.40,232.36 L228.20,230.45 L229.00,229.79 L229.80,231.57 L230.00,234.13 L230.60,231.95 L231.40,232.88 L232.20,230.87 L233.00,229.62 L233.80,231.36 L234.60,229.23 L235.40,229.90 L236.20,230.94 L237.00,232.90 L237.80,231.58 L238.60,233.52 L239.40,230.44 L240.20,231.59 L241.00,230.04 L241.80,231.40 L242.60,234.16 L243.40,230.98 L244.20,230.64 L245.00,229.75 L245.80,233.01 L246.60,232.96 L247.40,231.77 L248.20,233.15 L249.00,233.56 L249.80,233.23 L250.00,228.75" fill="none" stroke="#d21c28" stroke-width="1.7" stroke-linejoin="round"/>
<path d="M48.20,231.81 L49.00,235.20 L49.80,232.68 L50.60,233.57 L51.40,232.32 L52.20,233.25 L53.00,231.81 L53.80,233.61 L54.60,234.15 L55.40,233.06 L56.20,233.21 L57.00,233.99 L57.80,233.89 L58.60,232.92 L59.40,232.94 L60.20,234.13 L61.00,234.01 L61.80,235.20 L62.60,231.96 L63.40,233.86 L64.20,232.30 L65.00,233.22 L65.80,231.70 L66.60,232.10 L67.40,233.32 L68.20,232.16 L69.00,234.59 L69.80,232.38 L70.60,235.12 L71.40,233.30 L72.20,232.58 L73.00,233.42 L73.80,234.00 L74.60,234.44 L75.40,233.98 L76.20,232.59 L77.00,232.75 L77.80,233.90 L78.60,234.88 L79.40,232.97 L80.20,235.09 L81.00,234.17 L81.80,234.37 L82.60,232.90 L83.40,233.40 L84.20,233.18 L85.00,233.37 L85.80,234.32 L86.60,233.10 L87.40,232.23 L88.20,233.68 L89.00,233.01 L89.80,233.76 L90.60,232.61 L91.40,232.97 L92.20,232.76 L93.00,233.29 L93.80,232.00 L94.00,234.00 L94.60,233.08 L95.40,232.22 L96.00,229.67 L96.20,231.34 L97.00,231.23 L97.80,229.14 L98.60,228.35 L99.40,229.03 L100.20,233.63 L101.00,230.96 L101.70,231.02 L101.80,231.21 L102.60,229.93 L103.40,226.50 L104.20,229.61 L105.00,230.17 L105.80,227.90 L106.60,228.77 L107.40,228.60 L108.20,229.76 L109.00,228.61 L109.40,227.88 L109.80,231.46 L110.60,230.81 L111.40,226.31 L112.20,226.48 L113.00,228.47 L113.80,229.12 L114.60,227.54 L115.40,229.03 L116.20,227.39 L117.00,223.78 L117.80,225.90 L118.60,223.57 L119.40,225.57 L120.20,224.01 L121.00,221.61 L121.80,226.27 L122.60,223.92 L123.40,223.07 L124.20,221.72 L124.80,218.80 L125.00,220.44 L125.80,224.47 L126.60,221.56 L127.40,222.46 L128.20,222.12 L128.60,215.67 L129.00,221.51 L129.80,217.16 L130.60,217.83 L131.40,212.59 L132.20,212.26 L132.50,212.24 L133.00,211.93 L133.80,207.48 L134.60,211.56 L135.40,209.74 L136.20,209.54 L136.30,202.64 L137.00,205.45 L137.80,205.70 L138.60,202.02 L139.40,191.30 L140.20,197.27 L141.00,192.47 L141.80,191.88 L142.60,191.63 L143.00,192.98 L143.40,190.56 L144.20,188.15 L145.00,192.16 L145.80,174.06 L146.60,178.65 L147.40,180.28 L148.20,180.19 L149.00,181.10 L149.80,173.43 L150.00,177.33 L150.60,174.19 L151.40,180.32 L152.20,172.80 L153.00,168.83 L153.80,173.59 L154.60,168.83 L155.00,171.04 L155.40,168.83 L156.20,168.83 L157.00,169.06 L157.50,171.02 L157.80,168.83 L158.60,169.81 L159.40,173.20 L160.20,169.88 L161.00,170.82 L161.25,176.13 L161.80,173.84 L162.60,168.83 L163.40,172.36 L164.20,176.06 L165.00,168.83 L165.80,179.47 L166.60,187.26 L167.40,185.52 L168.20,184.46 L169.00,178.35 L169.80,176.12 L170.00,187.63 L170.60,176.97 L171.40,186.95 L172.20,183.33 L173.00,184.25 L173.80,186.01 L174.60,189.07 L175.00,189.34 L175.40,194.24 L176.20,190.69 L177.00,189.56 L177.80,190.89 L178.60,186.72 L179.40,192.72 L180.00,194.69 L180.20,192.13 L181.00,197.77 L181.80,203.61 L182.60,207.60 L183.40,198.54 L184.20,201.88 L185.00,202.37 L185.80,206.79 L186.60,206.06 L187.40,203.08 L188.20,208.36 L189.00,213.25 L189.80,212.59 L190.00,208.28 L190.60,215.10 L191.40,219.54 L192.20,219.56 L193.00,218.01 L193.80,213.76 L194.60,216.24 L195.00,218.58 L195.40,220.17 L196.20,218.32 L197.00,219.23 L197.80,220.90 L198.60,221.02 L199.40,222.88 L200.00,218.29 L200.20,226.82 L201.00,222.40 L201.80,225.18 L202.60,222.45 L203.40,224.81 L204.20,224.27 L205.00,224.57 L205.80,225.44 L206.60,224.35 L207.40,228.77 L208.20,225.02 L209.00,227.30 L209.80,226.58 L210.60,224.94 L211.40,225.96 L212.20,224.89 L212.50,231.76 L213.00,229.84 L213.80,227.07 L214.60,230.57 L215.40,229.36 L216.20,226.77 L217.00,228.29 L217.80,231.22 L218.60,229.43 L219.40,229.42 L220.00,230.42 L220.20,230.68 L221.00,230.44 L221.80,232.78 L222.60,230.65 L223.40,232.22 L224.20,230.48 L225.00,230.53 L225.80,232.37 L226.60,230.49 L227.40,230.92 L228.20,231.53 L229.00,230.64 L229.80,232.06 L230.00,232.05 L230.60,231.60 L231.40,231.79 L232.20,230.29 L233.00,234.73 L233.80,232.15 L234.60,234.30 L235.40,232.45 L236.20,231.52 L237.00,231.85 L237.80,230.67 L238.60,231.50 L239.40,235.20 L240.20,233.32 L241.00,230.03 L241.80,230.04 L242.60,231.87 L243.40,233.92 L244.20,229.35 L245.00,234.63 L245.80,231.69 L246.60,232.15 L247.40,231.81 L248.20,233.56 L249.00,232.63 L249.80,230.85 L250.00,232.77" fill="none" stroke="#191a58" stroke-width="1.6" stroke-linejoin="round"/>
<rect x="45.5" y="141.1" width="205.0" height="94.6" fill="none" stroke="#444" stroke-width="1"/>
<line x1="45.5" y1="141.1" x2="45.5" y2="236.2" stroke="#111" stroke-width="1.1"/>
<line x1="45.5" y1="235.7" x2="250.5" y2="235.7" stroke="#111" stroke-width="1.1"/>
<line x1="42.30" y1="235.20" x2="45.5" y2="235.20" stroke="#222" stroke-width="1.1"/>
<text x="41.20" y="237.84" text-anchor="end" font-size="8" fill="#222" stroke="#222" stroke-width="0.25">0</text>
<line x1="43.50" y1="232.08" x2="45.5" y2="232.08" stroke="#222" stroke-width="0.95"/>
<line x1="43.50" y1="228.95" x2="45.5" y2="228.95" stroke="#222" stroke-width="0.95"/>
<line x1="43.50" y1="225.83" x2="45.5" y2="225.83" stroke="#222" stroke-width="0.95"/>
<line x1="43.50" y1="222.71" x2="45.5" y2="222.71" stroke="#222" stroke-width="0.95"/>
<line x1="42.30" y1="219.58" x2="45.5" y2="219.58" stroke="#222" stroke-width="1.1"/>
<text x="41.20" y="222.22" text-anchor="end" font-size="8" fill="#222" stroke="#222" stroke-width="0.25">20</text>
<line x1="43.50" y1="216.46" x2="45.5" y2="216.46" stroke="#222" stroke-width="0.95"/>
<line x1="43.50" y1="213.34" x2="45.5" y2="213.34" stroke="#222" stroke-width="0.95"/>
<line x1="43.50" y1="210.21" x2="45.5" y2="210.21" stroke="#222" stroke-width="0.95"/>
<line x1="43.50" y1="207.09" x2="45.5" y2="207.09" stroke="#222" stroke-width="0.95"/>
<line x1="42.30" y1="203.97" x2="45.5" y2="203.97" stroke="#222" stroke-width="1.1"/>
<text x="41.20" y="206.61" text-anchor="end" font-size="8" fill="#222" stroke="#222" stroke-width="0.25">40</text>
<line x1="43.50" y1="200.84" x2="45.5" y2="200.84" stroke="#222" stroke-width="0.95"/>
<line x1="43.50" y1="197.72" x2="45.5" y2="197.72" stroke="#222" stroke-width="0.95"/>
<line x1="43.50" y1="194.60" x2="45.5" y2="194.60" stroke="#222" stroke-width="0.95"/>
<line x1="43.50" y1="191.47" x2="45.5" y2="191.47" stroke="#222" stroke-width="0.95"/>
<line x1="42.30" y1="188.35" x2="45.5" y2="188.35" stroke="#222" stroke-width="1.1"/>
<text x="41.20" y="190.99" text-anchor="end" font-size="8" fill="#222" stroke="#222" stroke-width="0.25">60</text>
<line x1="43.50" y1="185.23" x2="45.5" y2="185.23" stroke="#222" stroke-width="0.95"/>
<line x1="43.50" y1="182.10" x2="45.5" y2="182.10" stroke="#222" stroke-width="0.95"/>
<line x1="43.50" y1="178.98" x2="45.5" y2="178.98" stroke="#222" stroke-width="0.95"/>
<line x1="43.50" y1="175.86" x2="45.5" y2="175.86" stroke="#222" stroke-width="0.95"/>
<line x1="42.30" y1="172.73" x2="45.5" y2="172.73" stroke="#222" stroke-width="1.1"/>
<text x="41.20" y="175.37" text-anchor="end" font-size="8" fill="#222" stroke="#222" stroke-width="0.25">80</text>
<line x1="43.50" y1="169.61" x2="45.5" y2="169.61" stroke="#222" stroke-width="0.95"/>
<line x1="43.50" y1="166.49" x2="45.5" y2="166.49" stroke="#222" stroke-width="0.95"/>
<line x1="43.50" y1="163.36" x2="45.5" y2="163.36" stroke="#222" stroke-width="0.95"/>
<line x1="43.50" y1="160.24" x2="45.5" y2="160.24" stroke="#222" stroke-width="0.95"/>
<line x1="42.30" y1="157.12" x2="45.5" y2="157.12" stroke="#222" stroke-width="1.1"/>
<text x="41.20" y="159.76" text-anchor="end" font-size="8" fill="#222" stroke="#222" stroke-width="0.25">100</text>
<line x1="43.50" y1="153.99" x2="45.5" y2="153.99" stroke="#222" stroke-width="0.95"/>
<line x1="43.50" y1="150.87" x2="45.5" y2="150.87" stroke="#222" stroke-width="0.95"/>
<line x1="43.50" y1="147.75" x2="45.5" y2="147.75" stroke="#222" stroke-width="0.95"/>
<line x1="43.50" y1="144.62" x2="45.5" y2="144.62" stroke="#222" stroke-width="0.95"/>
<line x1="42.30" y1="141.50" x2="45.5" y2="141.50" stroke="#222" stroke-width="1.1"/>
<text x="41.20" y="144.14" text-anchor="end" font-size="8" fill="#222" stroke="#222" stroke-width="0.25">120</text>
<line x1="45.50" y1="235.7" x2="45.50" y2="239.50" stroke="#222" stroke-width="0.7"/>
<line x1="60.93" y1="235.7" x2="60.93" y2="237.70" stroke="#222" stroke-width="0.7"/>
<line x1="69.95" y1="235.7" x2="69.95" y2="237.70" stroke="#222" stroke-width="0.7"/>
<line x1="76.36" y1="235.7" x2="76.36" y2="237.70" stroke="#222" stroke-width="0.7"/>
<line x1="81.32" y1="235.7" x2="81.32" y2="237.70" stroke="#222" stroke-width="0.7"/>
<line x1="85.38" y1="235.7" x2="85.38" y2="237.70" stroke="#222" stroke-width="0.7"/>
<line x1="88.81" y1="235.7" x2="88.81" y2="237.70" stroke="#222" stroke-width="0.7"/>
<line x1="91.78" y1="235.7" x2="91.78" y2="237.70" stroke="#222" stroke-width="0.7"/>
<line x1="94.40" y1="235.7" x2="94.40" y2="237.70" stroke="#222" stroke-width="0.7"/>
<line x1="96.75" y1="235.7" x2="96.75" y2="239.50" stroke="#222" stroke-width="0.7"/>
<line x1="112.18" y1="235.7" x2="112.18" y2="237.70" stroke="#222" stroke-width="0.7"/>
<line x1="121.20" y1="235.7" x2="121.20" y2="237.70" stroke="#222" stroke-width="0.7"/>
<line x1="127.61" y1="235.7" x2="127.61" y2="237.70" stroke="#222" stroke-width="0.7"/>
<line x1="132.57" y1="235.7" x2="132.57" y2="237.70" stroke="#222" stroke-width="0.7"/>
<line x1="136.63" y1="235.7" x2="136.63" y2="237.70" stroke="#222" stroke-width="0.7"/>
<line x1="140.06" y1="235.7" x2="140.06" y2="237.70" stroke="#222" stroke-width="0.7"/>
<line x1="143.03" y1="235.7" x2="143.03" y2="237.70" stroke="#222" stroke-width="0.7"/>
<line x1="145.65" y1="235.7" x2="145.65" y2="237.70" stroke="#222" stroke-width="0.7"/>
<line x1="148.00" y1="235.7" x2="148.00" y2="239.50" stroke="#222" stroke-width="0.7"/>
<line x1="163.43" y1="235.7" x2="163.43" y2="237.70" stroke="#222" stroke-width="0.7"/>
<line x1="172.45" y1="235.7" x2="172.45" y2="237.70" stroke="#222" stroke-width="0.7"/>
<line x1="178.86" y1="235.7" x2="178.86" y2="237.70" stroke="#222" stroke-width="0.7"/>
<line x1="183.82" y1="235.7" x2="183.82" y2="237.70" stroke="#222" stroke-width="0.7"/>
<line x1="187.88" y1="235.7" x2="187.88" y2="237.70" stroke="#222" stroke-width="0.7"/>
<line x1="191.31" y1="235.7" x2="191.31" y2="237.70" stroke="#222" stroke-width="0.7"/>
<line x1="194.28" y1="235.7" x2="194.28" y2="237.70" stroke="#222" stroke-width="0.7"/>
<line x1="196.90" y1="235.7" x2="196.90" y2="237.70" stroke="#222" stroke-width="0.7"/>
<line x1="199.25" y1="235.7" x2="199.25" y2="239.50" stroke="#222" stroke-width="0.7"/>
<line x1="214.68" y1="235.7" x2="214.68" y2="237.70" stroke="#222" stroke-width="0.7"/>
<line x1="223.70" y1="235.7" x2="223.70" y2="237.70" stroke="#222" stroke-width="0.7"/>
<line x1="230.11" y1="235.7" x2="230.11" y2="237.70" stroke="#222" stroke-width="0.7"/>
<line x1="235.07" y1="235.7" x2="235.07" y2="237.70" stroke="#222" stroke-width="0.7"/>
<line x1="239.13" y1="235.7" x2="239.13" y2="237.70" stroke="#222" stroke-width="0.7"/>
<line x1="242.56" y1="235.7" x2="242.56" y2="237.70" stroke="#222" stroke-width="0.7"/>
<line x1="245.53" y1="235.7" x2="245.53" y2="237.70" stroke="#222" stroke-width="0.7"/>
<line x1="248.15" y1="235.7" x2="248.15" y2="237.70" stroke="#222" stroke-width="0.7"/>
<line x1="250.50" y1="235.7" x2="250.50" y2="239.50" stroke="#222" stroke-width="0.7"/>
<text transform="translate(24.6,190.8) rotate(-90)" text-anchor="middle" font-size="8.2" fill="#222" stroke="#222" stroke-width="0.2">Counts</text>
<path d="M316.00,104.30 L316.00,101.70 L316.80,100.11 L317.60,101.65 L318.40,98.24 L319.20,98.80 L320.00,98.37 L320.80,97.31 L321.50,96.65 L321.60,95.69 L322.40,93.56 L323.20,92.74 L323.30,92.55 L324.00,95.71 L324.80,96.35 L325.30,93.75 L325.60,93.48 L326.40,89.88 L327.20,88.68 L327.30,91.04 L328.00,87.29 L328.80,86.96 L329.60,86.35 L330.20,86.87 L330.40,84.74 L331.20,80.76 L331.30,78.71 L332.00,77.26 L332.80,71.98 L333.30,73.94 L333.60,70.81 L334.40,67.87 L335.20,67.40 L336.00,65.63 L336.80,59.17 L337.60,57.68 L338.40,56.59 L339.00,53.69 L339.20,55.42 L340.00,51.95 L340.80,52.04 L341.60,48.77 L341.90,46.48 L342.40,46.67 L343.20,39.91 L343.80,40.99 L344.00,38.80 L344.80,39.20 L345.60,34.23 L346.40,31.74 L346.70,31.61 L347.20,31.31 L348.00,26.71 L348.80,25.73 L349.60,31.31 L350.40,23.60 L351.20,28.78 L352.00,24.45 L352.50,21.85 L352.80,21.80 L353.60,26.43 L354.40,27.37 L355.20,27.18 L355.30,29.27 L356.00,30.46 L356.80,28.87 L357.60,29.79 L358.20,33.27 L358.40,33.79 L359.20,36.70 L360.00,40.50 L360.80,43.43 L361.00,45.28 L361.60,42.63 L362.40,45.59 L363.20,47.07 L364.00,47.73 L364.80,49.46 L365.60,50.08 L366.40,55.89 L366.90,57.63 L367.20,57.65 L368.00,62.78 L368.80,62.06 L369.60,65.91 L369.80,67.12 L370.40,70.24 L371.20,71.11 L372.00,72.94 L372.70,75.85 L372.80,77.19 L373.60,80.45 L374.40,77.61 L375.20,80.67 L375.50,81.80 L376.00,79.91 L376.80,81.68 L377.60,85.09 L378.40,84.24 L379.20,85.43 L379.40,84.01 L380.00,88.56 L380.80,87.62 L381.60,88.33 L382.40,87.48 L383.20,91.49 L384.00,92.90 L384.80,90.21 L385.20,87.76 L385.60,87.51 L386.40,87.26 L387.20,89.70 L388.00,91.92 L388.80,90.85 L389.00,92.05 L389.60,92.55 L390.40,92.69 L391.20,91.73 L392.00,94.43 L392.80,94.92 L393.60,94.31 L394.40,94.69 L394.80,95.63 L395.20,95.83 L396.00,94.85 L396.80,94.20 L397.60,95.09 L398.40,95.41 L399.20,95.17 L400.00,98.46 L400.50,98.18 L400.80,97.51 L401.60,98.15 L402.40,98.16 L403.20,97.42 L404.00,98.81 L404.80,98.28 L405.60,99.85 L406.40,99.13 L407.20,97.38 L408.00,99.16 L408.20,98.50 L408.80,98.28 L409.60,99.39 L410.40,98.66 L411.20,99.08 L412.00,98.84 L412.80,100.01 L413.60,100.76 L414.00,100.50 L414.40,100.22 L415.20,99.54 L416.00,100.25 L416.80,100.55 L417.60,100.54 L418.40,99.77 L419.20,101.13 L420.00,99.82 L420.80,101.87 L421.60,101.58 L422.40,100.77 L423.20,101.15 L424.00,102.20 L424.80,101.87 L425.60,102.39 L426.40,101.59 L427.20,101.95 L427.50,102.74 L428.00,102.12 L428.80,102.60 L429.60,102.48 L430.40,102.44 L431.20,102.84 L432.00,102.32 L432.80,102.34 L433.60,102.41 L434.40,102.08 L435.20,102.88 L436.00,103.58 L436.80,103.08 L437.60,102.75 L438.40,102.89 L439.20,102.63 L440.00,102.56 L440.80,103.09 L441.60,103.12 L442.40,103.61 L443.20,102.63 L444.00,103.32 L444.80,103.77 L445.60,103.82 L446.40,103.52 L447.20,102.62 L448.00,103.04 L448.80,104.24 L449.60,103.55 L450.00,103.39 L450.40,103.23 L451.20,103.39 L452.00,103.85 L452.80,103.40 L453.60,103.86 L454.40,104.30 L455.20,103.96 L456.00,103.97 L456.80,103.29 L457.60,103.27 L458.40,104.18 L459.20,103.69 L460.00,103.75 L460.80,104.30 L461.60,104.30 L462.40,103.89 L463.20,103.82 L464.00,104.13 L464.80,104.30 L465.60,103.95 L466.40,104.18 L467.20,104.30 L468.00,104.13 L468.80,104.30 L469.60,103.85 L470.00,104.06 L470.40,104.27 L471.20,103.97 L472.00,104.08 L472.80,104.30 L473.60,104.13 L474.40,104.25 L475.20,104.30 L476.00,104.30 L476.80,103.95 L477.60,104.30 L478.40,103.62 L479.20,103.52 L480.00,104.22 L480.80,103.93 L481.60,103.44 L482.40,104.24 L483.20,104.30 L484.00,104.28 L484.80,104.30 L485.60,104.30 L486.40,104.08 L487.20,104.29 L488.00,104.08 L488.80,104.00 L489.60,104.30 L490.40,104.23 L491.20,104.26 L492.00,104.30 L492.80,104.30 L493.60,104.09 L494.40,104.24 L495.20,104.09 L496.00,103.88 L496.80,103.89 L497.60,104.30 L498.40,104.30 L499.20,104.30 L500.00,104.18 L500.80,103.94 L501.60,104.30 L502.40,104.30 L503.20,104.16 L504.00,103.88 L504.80,103.84 L505.60,104.30 L506.40,104.30 L507.20,104.30 L508.00,104.02 L508.80,104.14 L509.60,104.30 L510.40,104.30 L511.20,104.20 L512.00,104.02 L512.80,104.30 L513.60,104.30 L514.40,104.27 L515.00,104.30 L515.00,104.30 Z" fill="#e3e3ed" stroke="none"/>
<path d="M316.00,101.70 L316.80,100.11 L317.60,101.65 L318.40,98.24 L319.20,98.80 L320.00,98.37 L320.80,97.31 L321.50,96.65 L321.60,95.69 L322.40,93.56 L323.20,92.74 L323.30,92.55 L324.00,95.71 L324.80,96.35 L325.30,93.75 L325.60,93.48 L326.40,89.88 L327.20,88.68 L327.30,91.04 L328.00,87.29 L328.80,86.96 L329.60,86.35 L330.20,86.87 L330.40,84.74 L331.20,80.76 L331.30,78.71 L332.00,77.26 L332.80,71.98 L333.30,73.94 L333.60,70.81 L334.40,67.87 L335.20,67.40 L336.00,65.63 L336.80,59.17 L337.60,57.68 L338.40,56.59 L339.00,53.69 L339.20,55.42 L340.00,51.95 L340.80,52.04 L341.60,48.77 L341.90,46.48 L342.40,46.67 L343.20,39.91 L343.80,40.99 L344.00,38.80 L344.80,39.20 L345.60,34.23 L346.40,31.74 L346.70,31.61 L347.20,31.31 L348.00,26.71 L348.80,25.73 L349.60,31.31 L350.40,23.60 L351.20,28.78 L352.00,24.45 L352.50,21.85 L352.80,21.80 L353.60,26.43 L354.40,27.37 L355.20,27.18 L355.30,29.27 L356.00,30.46 L356.80,28.87 L357.60,29.79 L358.20,33.27 L358.40,33.79 L359.20,36.70 L360.00,40.50 L360.80,43.43 L361.00,45.28 L361.60,42.63 L362.40,45.59 L363.20,47.07 L364.00,47.73 L364.80,49.46 L365.60,50.08 L366.40,55.89 L366.90,57.63 L367.20,57.65 L368.00,62.78 L368.80,62.06 L369.60,65.91 L369.80,67.12 L370.40,70.24 L371.20,71.11 L372.00,72.94 L372.70,75.85 L372.80,77.19 L373.60,80.45 L374.40,77.61 L375.20,80.67 L375.50,81.80 L376.00,79.91 L376.80,81.68 L377.60,85.09 L378.40,84.24 L379.20,85.43 L379.40,84.01 L380.00,88.56 L380.80,87.62 L381.60,88.33 L382.40,87.48 L383.20,91.49 L384.00,92.90 L384.80,90.21 L385.20,87.76 L385.60,87.51 L386.40,87.26 L387.20,89.70 L388.00,91.92 L388.80,90.85 L389.00,92.05 L389.60,92.55 L390.40,92.69 L391.20,91.73 L392.00,94.43 L392.80,94.92 L393.60,94.31 L394.40,94.69 L394.80,95.63 L395.20,95.83 L396.00,94.85 L396.80,94.20 L397.60,95.09 L398.40,95.41 L399.20,95.17 L400.00,98.46 L400.50,98.18 L400.80,97.51 L401.60,98.15 L402.40,98.16 L403.20,97.42 L404.00,98.81 L404.80,98.28 L405.60,99.85 L406.40,99.13 L407.20,97.38 L408.00,99.16 L408.20,98.50 L408.80,98.28 L409.60,99.39 L410.40,98.66 L411.20,99.08 L412.00,98.84 L412.80,100.01 L413.60,100.76 L414.00,100.50 L414.40,100.22 L415.20,99.54 L416.00,100.25 L416.80,100.55 L417.60,100.54 L418.40,99.77 L419.20,101.13 L420.00,99.82 L420.80,101.87 L421.60,101.58 L422.40,100.77 L423.20,101.15 L424.00,102.20 L424.80,101.87 L425.60,102.39 L426.40,101.59 L427.20,101.95 L427.50,102.74 L428.00,102.12 L428.80,102.60 L429.60,102.48 L430.40,102.44 L431.20,102.84 L432.00,102.32 L432.80,102.34 L433.60,102.41 L434.40,102.08 L435.20,102.88 L436.00,103.58 L436.80,103.08 L437.60,102.75 L438.40,102.89 L439.20,102.63 L440.00,102.56 L440.80,103.09 L441.60,103.12 L442.40,103.61 L443.20,102.63 L444.00,103.32 L444.80,103.77 L445.60,103.82 L446.40,103.52 L447.20,102.62 L448.00,103.04 L448.80,104.24 L449.60,103.55 L450.00,103.39 L450.40,103.23 L451.20,103.39 L452.00,103.85 L452.80,103.40 L453.60,103.86 L454.40,104.30 L455.20,103.96 L456.00,103.97 L456.80,103.29 L457.60,103.27 L458.40,104.18 L459.20,103.69 L460.00,103.75 L460.80,104.30 L461.60,104.30 L462.40,103.89 L463.20,103.82 L464.00,104.13 L464.80,104.30 L465.60,103.95 L466.40,104.18 L467.20,104.30 L468.00,104.13 L468.80,104.30 L469.60,103.85 L470.00,104.06 L470.40,104.27 L471.20,103.97 L472.00,104.08 L472.80,104.30 L473.60,104.13 L474.40,104.25 L475.20,104.30 L476.00,104.30 L476.80,103.95 L477.60,104.30 L478.40,103.62 L479.20,103.52 L480.00,104.22 L480.80,103.93 L481.60,103.44 L482.40,104.24 L483.20,104.30 L484.00,104.28 L484.80,104.30 L485.60,104.30 L486.40,104.08 L487.20,104.29 L488.00,104.08 L488.80,104.00 L489.60,104.30 L490.40,104.23 L491.20,104.26 L492.00,104.30 L492.80,104.30 L493.60,104.09 L494.40,104.24 L495.20,104.09 L496.00,103.88 L496.80,103.89 L497.60,104.30 L498.40,104.30 L499.20,104.30 L500.00,104.18 L500.80,103.94 L501.60,104.30 L502.40,104.30 L503.20,104.16 L504.00,103.88 L504.80,103.84 L505.60,104.30 L506.40,104.30 L507.20,104.30 L508.00,104.02 L508.80,104.14 L509.60,104.30 L510.40,104.30 L511.20,104.20 L512.00,104.02 L512.80,104.30 L513.60,104.30 L514.40,104.27 L515.00,104.30" fill="none" stroke="#111" stroke-width="0.9"/>
<rect x="316" y="97.97" width="2.2" height="6.33" fill="#d21c28"/>
<path d="M316.00,104.28 L316.80,104.19 L317.60,104.22 L318.40,103.92 L319.20,103.00 L320.00,104.30 L320.80,103.21 L321.60,103.06 L322.40,103.77 L323.20,103.91 L324.00,103.38 L324.80,103.04 L325.60,102.61 L326.40,103.17 L327.20,102.84 L328.00,103.76 L328.80,103.94 L329.60,104.30 L330.40,104.06 L331.20,103.69 L332.00,103.43 L332.80,104.11 L333.60,103.13 L334.40,103.54 L335.20,103.79 L336.00,103.84 L336.80,102.54 L337.60,103.39 L338.40,103.88 L339.20,103.90 L340.00,102.58 L340.80,103.71 L341.60,102.87 L342.40,102.75 L343.20,104.30 L344.00,102.77 L344.80,103.50 L345.60,103.91 L346.40,103.64 L347.20,103.11 L348.00,103.19 L348.80,103.16 L349.60,103.70 L350.00,102.74 L350.40,102.36 L351.20,101.64 L352.00,101.60 L352.80,100.53 L353.60,99.87 L354.40,100.32 L355.20,99.70 L356.00,99.44 L356.30,99.29 L356.80,98.87 L357.60,100.62 L358.40,99.25 L359.20,98.30 L360.00,100.20 L360.80,99.38 L361.60,96.50 L362.00,98.66 L362.40,97.81 L363.20,96.38 L364.00,96.50 L364.80,96.21 L365.60,95.21 L366.40,94.46 L367.20,93.96 L367.80,92.64 L368.00,90.77 L368.80,90.91 L369.60,88.19 L370.40,87.98 L371.20,86.61 L371.70,86.15 L372.00,86.85 L372.80,84.74 L373.60,83.72 L374.40,84.51 L375.20,80.74 L375.50,80.54 L376.00,79.56 L376.80,78.92 L377.60,80.15 L378.40,71.66 L379.20,72.10 L379.40,75.10 L380.00,68.82 L380.80,69.06 L381.60,64.53 L382.40,63.86 L383.20,59.48 L384.00,59.54 L384.80,57.83 L385.60,56.46 L386.40,52.69 L387.00,56.52 L387.20,51.17 L388.00,50.60 L388.80,51.60 L389.60,48.93 L390.00,49.09 L390.40,46.76 L391.20,42.32 L392.00,43.32 L392.80,37.63 L393.00,36.54 L393.60,36.71 L394.40,33.91 L395.20,36.94 L396.00,34.51 L396.70,30.36 L396.80,35.28 L397.60,34.42 L398.40,32.84 L399.20,30.36 L400.00,31.83 L400.80,31.53 L401.60,35.68 L402.40,34.60 L403.20,35.11 L403.75,35.84 L404.00,33.89 L404.80,30.36 L405.60,31.98 L406.25,33.50 L406.40,30.36 L407.20,33.47 L408.00,40.02 L408.80,39.44 L409.60,45.07 L410.00,45.57 L410.40,46.63 L411.20,44.98 L412.00,50.15 L412.80,50.77 L413.60,51.42 L413.75,50.01 L414.40,51.45 L415.20,57.94 L416.00,55.75 L416.80,59.58 L417.50,59.77 L417.60,60.24 L418.40,64.76 L419.20,65.33 L420.00,67.52 L420.80,67.96 L421.25,66.68 L421.60,70.11 L422.40,72.91 L423.20,69.30 L424.00,76.59 L424.80,76.61 L425.00,77.04 L425.60,80.38 L426.40,79.26 L427.20,80.86 L428.00,84.40 L428.75,86.04 L428.80,86.40 L429.60,89.61 L430.40,88.29 L431.20,91.27 L432.00,92.09 L432.80,91.76 L433.60,92.42 L433.75,94.53 L434.40,92.94 L435.20,92.94 L436.00,95.16 L436.80,96.01 L437.60,96.36 L438.40,97.52 L439.20,98.51 L440.00,97.82 L440.80,98.04 L441.60,99.31 L442.40,99.50 L443.20,99.93 L444.00,100.26 L444.80,100.72 L445.60,101.37 L446.40,99.88 L447.20,101.04 L447.50,100.85 L448.00,99.72 L448.80,101.39 L449.60,100.77 L450.40,102.17 L451.20,101.78 L452.00,101.01 L452.80,101.74 L453.60,102.59 L454.40,102.74 L455.20,101.67 L456.00,102.55 L456.80,101.67 L457.50,102.01 L457.60,102.36 L458.40,102.21 L459.20,101.73 L460.00,102.16 L460.80,102.74 L461.60,101.98 L462.40,102.39 L463.20,102.32 L464.00,101.85 L464.80,102.00 L465.60,101.59 L466.40,102.30 L467.20,102.47 L468.00,102.40 L468.80,101.98 L469.60,102.68 L470.40,102.42 L471.20,102.70 L472.00,102.67 L472.80,102.32 L473.60,100.79 L474.40,102.44 L475.20,102.07 L476.00,102.16 L476.80,102.32 L477.60,102.20 L478.40,101.08 L479.20,102.38 L480.00,101.29 L480.80,101.85 L481.60,102.74 L482.40,102.61 L483.20,102.50 L484.00,102.87 L484.80,101.57 L485.60,102.00 L486.40,101.94 L487.20,102.84 L488.00,101.98 L488.80,102.56 L489.60,100.85 L490.40,102.31 L491.20,102.09 L492.00,102.02 L492.80,102.54 L493.60,102.49 L494.40,102.49 L495.20,101.78 L496.00,102.69 L496.80,102.37 L497.60,102.09 L498.40,102.51 L499.20,103.07 L500.00,102.97 L500.80,102.52 L501.60,102.84 L502.40,101.74 L503.20,102.28 L504.00,102.31 L504.80,102.88 L505.60,102.00 L506.40,102.51 L507.20,102.85 L508.00,102.67 L508.80,100.95 L509.60,102.66 L510.40,102.81 L511.20,101.66 L512.00,101.90 L512.80,102.49 L513.60,101.54 L514.40,103.16 L515.00,102.60" fill="none" stroke="#14793a" stroke-width="1.75" stroke-linejoin="round"/>
<path d="M316.00,103.26 L316.80,103.41 L317.60,103.53 L318.40,104.30 L319.20,103.30 L320.00,104.30 L320.80,103.07 L321.60,103.20 L322.40,103.10 L323.20,103.09 L324.00,103.33 L324.80,103.72 L325.60,103.61 L326.40,102.76 L327.20,103.73 L328.00,103.56 L328.80,103.79 L329.60,103.69 L330.40,103.59 L331.20,103.32 L332.00,103.57 L332.80,103.60 L333.60,103.72 L334.40,103.38 L335.20,104.05 L336.00,103.39 L336.80,102.79 L337.60,103.77 L338.40,103.43 L339.20,102.07 L340.00,103.87 L340.80,104.16 L341.60,103.59 L342.40,102.53 L343.20,102.41 L344.00,103.96 L344.80,103.10 L345.60,103.37 L346.40,103.65 L347.20,104.29 L348.00,102.87 L348.80,103.77 L349.60,103.21 L350.00,103.31 L350.40,102.39 L351.20,102.60 L352.00,103.67 L352.80,103.10 L353.60,102.30 L354.40,103.47 L355.20,102.85 L356.00,102.39 L356.30,103.41 L356.80,103.02 L357.60,103.04 L358.40,101.51 L359.20,101.77 L360.00,100.46 L360.80,100.72 L361.60,100.08 L362.00,100.41 L362.40,99.66 L363.20,100.02 L364.00,100.44 L364.80,98.48 L365.60,98.35 L366.40,97.02 L367.20,98.72 L368.00,98.83 L368.80,99.31 L369.60,101.17 L369.80,98.88 L370.40,96.91 L371.20,97.64 L372.00,98.74 L372.80,95.19 L373.60,95.84 L374.40,95.10 L375.20,94.66 L375.50,94.16 L376.00,92.76 L376.80,93.99 L377.60,91.13 L378.40,90.27 L379.20,87.07 L380.00,88.58 L380.80,83.94 L381.30,84.52 L381.60,82.74 L382.40,84.76 L383.20,81.56 L384.00,81.06 L384.80,82.64 L385.60,79.74 L386.40,78.93 L387.00,78.89 L387.20,78.32 L388.00,78.30 L388.80,75.71 L389.60,73.35 L390.40,74.08 L390.50,75.23 L391.20,68.82 L392.00,68.83 L392.80,65.75 L393.60,63.83 L394.40,62.03 L395.00,58.07 L395.20,59.73 L396.00,56.64 L396.80,57.54 L397.60,55.96 L398.40,51.42 L399.20,44.59 L400.00,46.18 L400.80,41.28 L401.60,43.31 L402.40,42.16 L403.20,43.30 L404.00,40.92 L404.80,35.73 L405.00,36.79 L405.60,39.98 L406.40,38.45 L407.20,33.92 L408.00,36.21 L408.75,33.92 L408.80,36.07 L409.60,33.92 L410.40,33.92 L411.20,33.92 L412.00,35.76 L412.50,36.36 L412.80,36.97 L413.60,37.08 L414.40,34.60 L415.20,34.92 L416.00,36.87 L416.25,40.72 L416.80,40.32 L417.60,40.34 L418.40,42.74 L419.20,47.63 L420.00,45.16 L420.80,42.71 L421.60,52.32 L422.40,51.25 L423.20,49.71 L423.75,54.92 L424.00,55.42 L424.80,55.96 L425.60,56.89 L426.40,60.45 L427.20,59.53 L427.50,65.53 L428.00,62.43 L428.80,65.59 L429.60,69.13 L430.40,70.83 L431.20,74.01 L431.25,72.12 L432.00,76.01 L432.80,76.44 L433.60,79.59 L434.40,80.25 L435.00,79.75 L435.20,81.98 L436.00,82.11 L436.80,83.96 L437.60,83.98 L438.40,84.34 L439.20,84.46 L440.00,89.38 L440.80,88.16 L441.60,87.88 L442.40,88.31 L443.20,89.34 L444.00,93.56 L444.80,93.53 L445.00,92.63 L445.60,92.64 L446.40,93.87 L447.20,94.42 L448.00,94.98 L448.80,96.49 L449.60,96.13 L450.40,96.07 L451.20,97.65 L452.00,96.86 L452.50,100.63 L452.80,98.57 L453.60,97.07 L454.40,97.98 L455.20,97.74 L456.00,99.01 L456.80,100.27 L457.60,99.94 L458.40,98.58 L459.20,101.35 L460.00,100.88 L460.80,101.63 L461.60,100.97 L462.40,101.09 L462.50,100.41 L463.20,101.41 L464.00,99.65 L464.80,100.42 L465.60,101.21 L466.40,101.59 L467.20,101.96 L468.00,100.85 L468.80,99.58 L469.60,101.08 L470.40,101.70 L471.20,101.04 L472.00,101.37 L472.80,101.66 L473.60,102.35 L474.40,101.11 L475.20,100.07 L476.00,100.26 L476.80,100.45 L477.60,100.99 L478.40,100.83 L479.20,100.48 L480.00,101.22 L480.80,101.01 L481.60,101.49 L482.40,100.47 L483.20,101.87 L484.00,100.81 L484.80,100.71 L485.60,100.74 L486.40,100.84 L487.20,101.64 L488.00,101.73 L488.80,101.64 L489.60,101.63 L490.40,102.15 L491.20,101.71 L492.00,101.85 L492.80,102.07 L493.60,101.23 L494.40,101.98 L495.20,101.34 L496.00,100.56 L496.80,100.44 L497.60,101.54 L498.40,100.90 L499.20,101.42 L500.00,100.05 L500.80,100.55 L501.60,100.91 L502.40,101.75 L503.20,101.83 L504.00,101.33 L504.80,101.72 L505.60,101.87 L506.40,101.29 L507.20,102.54 L508.00,103.04 L508.80,102.43 L509.60,102.53 L510.40,101.87 L511.20,102.39 L512.00,101.98 L512.80,103.14 L513.60,100.97 L514.40,101.66 L515.00,102.46" fill="none" stroke="#d21c28" stroke-width="1.75" stroke-linejoin="round"/>
<rect x="315.5" y="8.7" width="199.0" height="96.1" fill="none" stroke="#444" stroke-width="1"/>
<line x1="315.5" y1="8.7" x2="315.5" y2="105.3" stroke="#111" stroke-width="1.1"/>
<line x1="315.5" y1="104.8" x2="514.5" y2="104.8" stroke="#111" stroke-width="1.1"/>
<line x1="312.30" y1="104.30" x2="315.5" y2="104.30" stroke="#222" stroke-width="1.1"/>
<text x="311.20" y="106.94" text-anchor="end" font-size="8" fill="#222" stroke="#222" stroke-width="0.25">0</text>
<line x1="313.50" y1="101.14" x2="315.5" y2="101.14" stroke="#222" stroke-width="0.95"/>
<line x1="313.50" y1="97.97" x2="315.5" y2="97.97" stroke="#222" stroke-width="0.95"/>
<line x1="313.50" y1="94.81" x2="315.5" y2="94.81" stroke="#222" stroke-width="0.95"/>
<line x1="313.50" y1="91.65" x2="315.5" y2="91.65" stroke="#222" stroke-width="0.95"/>
<line x1="312.30" y1="88.48" x2="315.5" y2="88.48" stroke="#222" stroke-width="1.1"/>
<text x="311.20" y="91.12" text-anchor="end" font-size="8" fill="#222" stroke="#222" stroke-width="0.25">20</text>
<line x1="313.50" y1="85.32" x2="315.5" y2="85.32" stroke="#222" stroke-width="0.95"/>
<line x1="313.50" y1="82.16" x2="315.5" y2="82.16" stroke="#222" stroke-width="0.95"/>
<line x1="313.50" y1="78.99" x2="315.5" y2="78.99" stroke="#222" stroke-width="0.95"/>
<line x1="313.50" y1="75.83" x2="315.5" y2="75.83" stroke="#222" stroke-width="0.95"/>
<line x1="312.30" y1="72.67" x2="315.5" y2="72.67" stroke="#222" stroke-width="1.1"/>
<text x="311.20" y="75.31" text-anchor="end" font-size="8" fill="#222" stroke="#222" stroke-width="0.25">40</text>
<line x1="313.50" y1="69.50" x2="315.5" y2="69.50" stroke="#222" stroke-width="0.95"/>
<line x1="313.50" y1="66.34" x2="315.5" y2="66.34" stroke="#222" stroke-width="0.95"/>
<line x1="313.50" y1="63.18" x2="315.5" y2="63.18" stroke="#222" stroke-width="0.95"/>
<line x1="313.50" y1="60.01" x2="315.5" y2="60.01" stroke="#222" stroke-width="0.95"/>
<line x1="312.30" y1="56.85" x2="315.5" y2="56.85" stroke="#222" stroke-width="1.1"/>
<text x="311.20" y="59.49" text-anchor="end" font-size="8" fill="#222" stroke="#222" stroke-width="0.25">60</text>
<line x1="313.50" y1="53.69" x2="315.5" y2="53.69" stroke="#222" stroke-width="0.95"/>
<line x1="313.50" y1="50.52" x2="315.5" y2="50.52" stroke="#222" stroke-width="0.95"/>
<line x1="313.50" y1="47.36" x2="315.5" y2="47.36" stroke="#222" stroke-width="0.95"/>
<line x1="313.50" y1="44.20" x2="315.5" y2="44.20" stroke="#222" stroke-width="0.95"/>
<line x1="312.30" y1="41.03" x2="315.5" y2="41.03" stroke="#222" stroke-width="1.1"/>
<text x="311.20" y="43.67" text-anchor="end" font-size="8" fill="#222" stroke="#222" stroke-width="0.25">80</text>
<line x1="313.50" y1="37.87" x2="315.5" y2="37.87" stroke="#222" stroke-width="0.95"/>
<line x1="313.50" y1="34.71" x2="315.5" y2="34.71" stroke="#222" stroke-width="0.95"/>
<line x1="313.50" y1="31.54" x2="315.5" y2="31.54" stroke="#222" stroke-width="0.95"/>
<line x1="313.50" y1="28.38" x2="315.5" y2="28.38" stroke="#222" stroke-width="0.95"/>
<line x1="312.30" y1="25.22" x2="315.5" y2="25.22" stroke="#222" stroke-width="1.1"/>
<text x="311.20" y="27.86" text-anchor="end" font-size="8" fill="#222" stroke="#222" stroke-width="0.25">100</text>
<line x1="313.50" y1="22.05" x2="315.5" y2="22.05" stroke="#222" stroke-width="0.95"/>
<line x1="313.50" y1="18.89" x2="315.5" y2="18.89" stroke="#222" stroke-width="0.95"/>
<line x1="313.50" y1="15.73" x2="315.5" y2="15.73" stroke="#222" stroke-width="0.95"/>
<line x1="313.50" y1="12.56" x2="315.5" y2="12.56" stroke="#222" stroke-width="0.95"/>
<line x1="312.30" y1="9.40" x2="315.5" y2="9.40" stroke="#222" stroke-width="1.1"/>
<text x="311.20" y="12.04" text-anchor="end" font-size="8" fill="#222" stroke="#222" stroke-width="0.25">120</text>
<line x1="315.50" y1="104.8" x2="315.50" y2="108.60" stroke="#222" stroke-width="0.7"/>
<line x1="330.48" y1="104.8" x2="330.48" y2="106.80" stroke="#222" stroke-width="0.7"/>
<line x1="339.24" y1="104.8" x2="339.24" y2="106.80" stroke="#222" stroke-width="0.7"/>
<line x1="345.45" y1="104.8" x2="345.45" y2="106.80" stroke="#222" stroke-width="0.7"/>
<line x1="350.27" y1="104.8" x2="350.27" y2="106.80" stroke="#222" stroke-width="0.7"/>
<line x1="354.21" y1="104.8" x2="354.21" y2="106.80" stroke="#222" stroke-width="0.7"/>
<line x1="357.54" y1="104.8" x2="357.54" y2="106.80" stroke="#222" stroke-width="0.7"/>
<line x1="360.43" y1="104.8" x2="360.43" y2="106.80" stroke="#222" stroke-width="0.7"/>
<line x1="362.97" y1="104.8" x2="362.97" y2="106.80" stroke="#222" stroke-width="0.7"/>
<line x1="365.25" y1="104.8" x2="365.25" y2="108.60" stroke="#222" stroke-width="0.7"/>
<line x1="380.23" y1="104.8" x2="380.23" y2="106.80" stroke="#222" stroke-width="0.7"/>
<line x1="388.99" y1="104.8" x2="388.99" y2="106.80" stroke="#222" stroke-width="0.7"/>
<line x1="395.20" y1="104.8" x2="395.20" y2="106.80" stroke="#222" stroke-width="0.7"/>
<line x1="400.02" y1="104.8" x2="400.02" y2="106.80" stroke="#222" stroke-width="0.7"/>
<line x1="403.96" y1="104.8" x2="403.96" y2="106.80" stroke="#222" stroke-width="0.7"/>
<line x1="407.29" y1="104.8" x2="407.29" y2="106.80" stroke="#222" stroke-width="0.7"/>
<line x1="410.18" y1="104.8" x2="410.18" y2="106.80" stroke="#222" stroke-width="0.7"/>
<line x1="412.72" y1="104.8" x2="412.72" y2="106.80" stroke="#222" stroke-width="0.7"/>
<line x1="415.00" y1="104.8" x2="415.00" y2="108.60" stroke="#222" stroke-width="0.7"/>
<line x1="429.98" y1="104.8" x2="429.98" y2="106.80" stroke="#222" stroke-width="0.7"/>
<line x1="438.74" y1="104.8" x2="438.74" y2="106.80" stroke="#222" stroke-width="0.7"/>
<line x1="444.95" y1="104.8" x2="444.95" y2="106.80" stroke="#222" stroke-width="0.7"/>
<line x1="449.77" y1="104.8" x2="449.77" y2="106.80" stroke="#222" stroke-width="0.7"/>
<line x1="453.71" y1="104.8" x2="453.71" y2="106.80" stroke="#222" stroke-width="0.7"/>
<line x1="457.04" y1="104.8" x2="457.04" y2="106.80" stroke="#222" stroke-width="0.7"/>
<line x1="459.93" y1="104.8" x2="459.93" y2="106.80" stroke="#222" stroke-width="0.7"/>
<line x1="462.47" y1="104.8" x2="462.47" y2="106.80" stroke="#222" stroke-width="0.7"/>
<line x1="464.75" y1="104.8" x2="464.75" y2="108.60" stroke="#222" stroke-width="0.7"/>
<line x1="479.73" y1="104.8" x2="479.73" y2="106.80" stroke="#222" stroke-width="0.7"/>
<line x1="488.49" y1="104.8" x2="488.49" y2="106.80" stroke="#222" stroke-width="0.7"/>
<line x1="494.70" y1="104.8" x2="494.70" y2="106.80" stroke="#222" stroke-width="0.7"/>
<line x1="499.52" y1="104.8" x2="499.52" y2="106.80" stroke="#222" stroke-width="0.7"/>
<line x1="503.46" y1="104.8" x2="503.46" y2="106.80" stroke="#222" stroke-width="0.7"/>
<line x1="506.79" y1="104.8" x2="506.79" y2="106.80" stroke="#222" stroke-width="0.7"/>
<line x1="509.68" y1="104.8" x2="509.68" y2="106.80" stroke="#222" stroke-width="0.7"/>
<line x1="512.22" y1="104.8" x2="512.22" y2="106.80" stroke="#222" stroke-width="0.7"/>
<line x1="514.50" y1="104.8" x2="514.50" y2="108.60" stroke="#222" stroke-width="0.7"/>
<text transform="translate(296,52.75) rotate(-90)" text-anchor="middle" font-size="8.2" fill="#222" stroke="#222" stroke-width="0.2">Counts</text>
<path d="M316.00,238.40 L316.00,237.92 L316.80,236.79 L317.60,235.75 L318.40,235.99 L319.20,233.94 L319.80,233.71 L320.00,233.21 L320.80,233.28 L321.60,232.22 L322.40,233.64 L323.20,231.00 L323.80,231.23 L324.00,232.55 L324.80,230.36 L325.60,229.50 L326.00,231.17 L326.40,228.04 L327.20,227.78 L328.00,225.91 L328.50,225.39 L328.80,225.07 L329.60,224.17 L330.20,223.91 L330.40,225.70 L331.20,223.27 L332.00,223.77 L332.80,222.59 L333.60,220.27 L334.20,217.80 L334.40,216.93 L335.20,214.10 L335.40,213.12 L336.00,211.51 L336.80,207.52 L337.60,203.73 L338.00,204.07 L338.40,201.58 L339.20,199.61 L340.00,194.77 L340.80,198.79 L341.00,198.40 L341.60,192.15 L342.40,187.08 L343.20,185.86 L343.80,181.55 L344.00,184.33 L344.80,181.98 L345.60,178.23 L346.40,172.12 L346.70,171.47 L347.20,173.31 L348.00,168.98 L348.80,168.69 L349.60,164.85 L350.40,166.41 L351.20,162.61 L351.50,163.85 L352.00,162.99 L352.80,165.82 L353.60,167.57 L354.40,166.67 L355.20,166.89 L356.00,165.17 L356.30,165.91 L356.80,163.42 L357.60,166.87 L358.40,163.04 L359.20,162.04 L360.00,168.08 L360.80,165.90 L361.00,165.89 L361.60,170.80 L362.40,176.54 L363.20,178.70 L364.00,177.05 L364.80,175.45 L365.60,180.79 L366.40,183.11 L366.90,186.90 L367.20,188.89 L368.00,189.26 L368.80,194.81 L369.60,195.65 L369.80,194.97 L370.40,197.56 L371.20,198.92 L372.00,202.92 L372.70,203.07 L372.80,203.67 L373.60,209.23 L374.40,210.26 L375.20,211.80 L375.50,210.43 L376.00,211.76 L376.80,213.04 L377.60,214.45 L378.40,215.02 L379.20,215.85 L379.40,218.27 L380.00,220.60 L380.80,218.73 L381.60,221.12 L382.40,222.01 L383.20,223.51 L384.00,225.24 L384.80,226.29 L385.60,223.97 L386.40,224.45 L387.00,225.10 L387.20,226.01 L388.00,226.34 L388.80,227.49 L389.60,227.35 L390.40,228.25 L391.00,228.68 L391.20,228.05 L392.00,227.14 L392.80,231.39 L393.60,229.54 L394.40,230.10 L394.80,232.18 L395.20,230.83 L396.00,231.16 L396.80,231.82 L397.60,231.98 L398.40,232.94 L399.20,230.28 L400.00,229.86 L400.50,230.63 L400.80,232.28 L401.60,231.78 L402.40,231.70 L403.20,232.75 L404.00,232.26 L404.80,231.56 L405.60,232.40 L406.30,233.58 L406.40,233.16 L407.20,231.93 L408.00,232.56 L408.80,232.63 L409.60,231.32 L410.40,232.52 L411.20,233.31 L412.00,232.87 L412.80,231.12 L413.60,233.97 L414.00,231.61 L414.40,232.09 L415.20,233.75 L416.00,234.24 L416.80,233.26 L417.50,234.46 L417.60,235.06 L418.40,233.53 L419.20,234.91 L420.00,234.98 L420.80,235.37 L421.60,235.78 L422.40,235.68 L423.20,236.18 L424.00,235.81 L424.80,235.67 L425.00,235.70 L425.60,235.67 L426.40,235.54 L427.20,236.02 L428.00,236.88 L428.80,236.00 L429.60,237.57 L430.40,237.07 L431.20,236.53 L432.00,237.70 L432.80,235.95 L433.60,237.40 L434.40,237.71 L435.20,237.34 L436.00,237.38 L436.80,237.02 L437.60,237.13 L438.40,236.54 L439.20,237.22 L440.00,237.08 L440.80,237.69 L441.60,236.91 L442.40,237.58 L443.20,238.20 L444.00,236.49 L444.80,237.73 L445.60,237.75 L446.40,237.64 L447.20,236.83 L448.00,237.97 L448.80,237.38 L449.60,236.87 L450.40,236.18 L451.20,237.33 L452.00,237.15 L452.80,237.63 L453.60,236.13 L454.40,237.25 L455.20,237.21 L456.00,237.10 L456.80,237.66 L457.60,237.18 L458.40,237.84 L459.20,236.39 L460.00,237.25 L460.80,237.26 L461.60,236.56 L462.40,237.81 L463.20,236.44 L464.00,236.38 L464.80,237.58 L465.60,236.81 L466.40,237.23 L467.20,236.71 L468.00,237.15 L468.80,237.65 L469.60,236.85 L470.40,237.29 L471.20,237.08 L472.00,236.66 L472.80,236.54 L473.60,236.84 L474.40,237.92 L475.20,236.81 L476.00,237.33 L476.80,236.61 L477.60,237.28 L478.40,236.43 L479.20,236.91 L480.00,237.17 L480.80,237.02 L481.60,238.10 L482.40,236.87 L483.20,237.11 L484.00,237.75 L484.80,236.96 L485.60,237.01 L486.40,236.99 L487.20,237.24 L488.00,236.76 L488.80,236.75 L489.60,237.13 L490.40,237.21 L491.20,237.41 L492.00,237.49 L492.80,236.85 L493.60,237.46 L494.40,237.92 L495.20,237.05 L496.00,236.59 L496.80,237.32 L497.60,236.72 L498.40,236.92 L499.20,237.70 L500.00,237.01 L500.80,237.23 L501.60,236.82 L502.40,238.40 L503.20,236.74 L504.00,236.79 L504.80,237.66 L505.60,236.61 L506.40,237.25 L507.20,237.08 L508.00,236.72 L508.80,236.47 L509.60,237.08 L510.40,236.81 L511.20,236.94 L512.00,237.56 L512.80,236.31 L513.60,236.76 L514.40,237.09 L515.00,236.61 L515.00,238.40 Z" fill="#e3e3ed" stroke="none"/>
<path d="M316.00,237.92 L316.80,236.79 L317.60,235.75 L318.40,235.99 L319.20,233.94 L319.80,233.71 L320.00,233.21 L320.80,233.28 L321.60,232.22 L322.40,233.64 L323.20,231.00 L323.80,231.23 L324.00,232.55 L324.80,230.36 L325.60,229.50 L326.00,231.17 L326.40,228.04 L327.20,227.78 L328.00,225.91 L328.50,225.39 L328.80,225.07 L329.60,224.17 L330.20,223.91 L330.40,225.70 L331.20,223.27 L332.00,223.77 L332.80,222.59 L333.60,220.27 L334.20,217.80 L334.40,216.93 L335.20,214.10 L335.40,213.12 L336.00,211.51 L336.80,207.52 L337.60,203.73 L338.00,204.07 L338.40,201.58 L339.20,199.61 L340.00,194.77 L340.80,198.79 L341.00,198.40 L341.60,192.15 L342.40,187.08 L343.20,185.86 L343.80,181.55 L344.00,184.33 L344.80,181.98 L345.60,178.23 L346.40,172.12 L346.70,171.47 L347.20,173.31 L348.00,168.98 L348.80,168.69 L349.60,164.85 L350.40,166.41 L351.20,162.61 L351.50,163.85 L352.00,162.99 L352.80,165.82 L353.60,167.57 L354.40,166.67 L355.20,166.89 L356.00,165.17 L356.30,165.91 L356.80,163.42 L357.60,166.87 L358.40,163.04 L359.20,162.04 L360.00,168.08 L360.80,165.90 L361.00,165.89 L361.60,170.80 L362.40,176.54 L363.20,178.70 L364.00,177.05 L364.80,175.45 L365.60,180.79 L366.40,183.11 L366.90,186.90 L367.20,188.89 L368.00,189.26 L368.80,194.81 L369.60,195.65 L369.80,194.97 L370.40,197.56 L371.20,198.92 L372.00,202.92 L372.70,203.07 L372.80,203.67 L373.60,209.23 L374.40,210.26 L375.20,211.80 L375.50,210.43 L376.00,211.76 L376.80,213.04 L377.60,214.45 L378.40,215.02 L379.20,215.85 L379.40,218.27 L380.00,220.60 L380.80,218.73 L381.60,221.12 L382.40,222.01 L383.20,223.51 L384.00,225.24 L384.80,226.29 L385.60,223.97 L386.40,224.45 L387.00,225.10 L387.20,226.01 L388.00,226.34 L388.80,227.49 L389.60,227.35 L390.40,228.25 L391.00,228.68 L391.20,228.05 L392.00,227.14 L392.80,231.39 L393.60,229.54 L394.40,230.10 L394.80,232.18 L395.20,230.83 L396.00,231.16 L396.80,231.82 L397.60,231.98 L398.40,232.94 L399.20,230.28 L400.00,229.86 L400.50,230.63 L400.80,232.28 L401.60,231.78 L402.40,231.70 L403.20,232.75 L404.00,232.26 L404.80,231.56 L405.60,232.40 L406.30,233.58 L406.40,233.16 L407.20,231.93 L408.00,232.56 L408.80,232.63 L409.60,231.32 L410.40,232.52 L411.20,233.31 L412.00,232.87 L412.80,231.12 L413.60,233.97 L414.00,231.61 L414.40,232.09 L415.20,233.75 L416.00,234.24 L416.80,233.26 L417.50,234.46 L417.60,235.06 L418.40,233.53 L419.20,234.91 L420.00,234.98 L420.80,235.37 L421.60,235.78 L422.40,235.68 L423.20,236.18 L424.00,235.81 L424.80,235.67 L425.00,235.70 L425.60,235.67 L426.40,235.54 L427.20,236.02 L428.00,236.88 L428.80,236.00 L429.60,237.57 L430.40,237.07 L431.20,236.53 L432.00,237.70 L432.80,235.95 L433.60,237.40 L434.40,237.71 L435.20,237.34 L436.00,237.38 L436.80,237.02 L437.60,237.13 L438.40,236.54 L439.20,237.22 L440.00,237.08 L440.80,237.69 L441.60,236.91 L442.40,237.58 L443.20,238.20 L444.00,236.49 L444.80,237.73 L445.60,237.75 L446.40,237.64 L447.20,236.83 L448.00,237.97 L448.80,237.38 L449.60,236.87 L450.40,236.18 L451.20,237.33 L452.00,237.15 L452.80,237.63 L453.60,236.13 L454.40,237.25 L455.20,237.21 L456.00,237.10 L456.80,237.66 L457.60,237.18 L458.40,237.84 L459.20,236.39 L460.00,237.25 L460.80,237.26 L461.60,236.56 L462.40,237.81 L463.20,236.44 L464.00,236.38 L464.80,237.58 L465.60,236.81 L466.40,237.23 L467.20,236.71 L468.00,237.15 L468.80,237.65 L469.60,236.85 L470.40,237.29 L471.20,237.08 L472.00,236.66 L472.80,236.54 L473.60,236.84 L474.40,237.92 L475.20,236.81 L476.00,237.33 L476.80,236.61 L477.60,237.28 L478.40,236.43 L479.20,236.91 L480.00,237.17 L480.80,237.02 L481.60,238.10 L482.40,236.87 L483.20,237.11 L484.00,237.75 L484.80,236.96 L485.60,237.01 L486.40,236.99 L487.20,237.24 L488.00,236.76 L488.80,236.75 L489.60,237.13 L490.40,237.21 L491.20,237.41 L492.00,237.49 L492.80,236.85 L493.60,237.46 L494.40,237.92 L495.20,237.05 L496.00,236.59 L496.80,237.32 L497.60,236.72 L498.40,236.92 L499.20,237.70 L500.00,237.01 L500.80,237.23 L501.60,236.82 L502.40,238.40 L503.20,236.74 L504.00,236.79 L504.80,237.66 L505.60,236.61 L506.40,237.25 L507.20,237.08 L508.00,236.72 L508.80,236.47 L509.60,237.08 L510.40,236.81 L511.20,236.94 L512.00,237.56 L512.80,236.31 L513.60,236.76 L514.40,237.09 L515.00,236.61" fill="none" stroke="#111" stroke-width="0.9"/>
<path d="M316.00,237.83 L316.80,238.22 L317.60,237.75 L318.40,237.97 L319.20,238.40 L320.00,237.58 L320.80,238.03 L321.60,237.74 L322.40,237.24 L323.20,237.88 L324.00,238.40 L324.80,238.27 L325.50,237.58 L325.60,238.40 L326.40,237.81 L327.20,237.70 L328.00,238.31 L328.80,237.67 L329.60,237.43 L330.40,237.99 L331.20,237.80 L332.00,237.25 L332.80,238.09 L333.20,237.86 L333.60,236.95 L334.40,237.38 L335.20,238.12 L336.00,237.41 L336.80,236.46 L337.60,238.17 L338.40,237.02 L339.20,237.04 L340.00,237.51 L340.80,237.12 L341.00,237.75 L341.60,236.09 L342.40,235.24 L343.20,236.24 L344.00,235.16 L344.80,234.27 L345.60,234.22 L346.40,232.80 L346.70,233.72 L347.20,232.03 L348.00,232.27 L348.80,231.53 L349.60,230.53 L350.40,229.56 L351.20,230.90 L352.00,228.62 L352.50,228.20 L352.80,228.95 L353.60,226.54 L354.40,228.31 L355.20,227.41 L356.00,225.70 L356.80,226.24 L357.60,223.14 L358.20,224.03 L358.40,221.84 L359.20,223.81 L360.00,222.29 L360.80,217.84 L361.60,219.66 L362.00,215.99 L362.40,217.62 L363.20,214.03 L364.00,210.59 L364.80,210.42 L365.00,211.65 L365.60,208.93 L366.40,203.98 L367.20,203.32 L367.80,200.72 L368.00,201.14 L368.80,198.06 L369.60,196.25 L370.40,195.16 L370.70,191.10 L371.20,190.10 L372.00,191.79 L372.80,185.00 L373.60,180.21 L374.40,175.99 L375.20,181.09 L376.00,175.75 L376.50,173.43 L376.80,172.67 L377.60,175.17 L378.40,171.59 L379.20,172.92 L379.40,171.86 L380.00,172.78 L380.80,170.56 L381.60,171.91 L382.30,170.07 L382.40,170.97 L383.20,168.98 L384.00,168.98 L384.80,170.95 L385.20,172.48 L385.60,170.91 L386.40,170.83 L387.00,172.88 L387.20,169.05 L388.00,170.81 L388.80,168.98 L389.60,171.04 L390.00,168.98 L390.40,169.77 L391.20,173.74 L392.00,174.39 L392.80,175.88 L393.60,178.45 L394.40,178.40 L395.20,184.04 L395.30,184.17 L396.00,186.44 L396.80,183.54 L397.60,188.85 L398.40,190.11 L398.60,191.96 L399.20,191.28 L400.00,195.27 L400.80,197.03 L401.60,201.56 L402.40,202.78 L402.50,199.71 L403.20,200.51 L404.00,206.80 L404.80,205.71 L405.60,207.74 L406.30,204.99 L406.40,211.62 L407.20,212.54 L408.00,214.56 L408.80,213.21 L409.60,214.39 L410.00,217.01 L410.40,215.40 L411.20,216.46 L412.00,221.69 L412.80,222.19 L413.00,223.55 L413.60,224.81 L414.40,225.57 L415.00,226.03 L415.20,227.43 L416.00,226.87 L416.80,226.73 L417.60,229.39 L418.40,229.75 L419.20,230.92 L420.00,230.49 L420.80,231.76 L421.25,231.30 L421.60,232.54 L422.40,233.84 L423.20,232.44 L424.00,233.48 L424.80,232.64 L425.60,233.32 L426.40,236.21 L427.20,235.99 L427.50,234.63 L428.00,235.30 L428.80,236.52 L429.60,235.45 L430.40,234.34 L431.20,234.96 L432.00,236.16 L432.80,235.53 L433.60,235.23 L434.40,236.16 L435.20,235.11 L436.00,236.80 L436.80,235.29 L437.60,235.81 L438.40,236.56 L439.20,236.89 L440.00,237.16 L440.80,237.70 L441.60,236.74 L442.40,236.62 L443.20,236.91 L444.00,237.20 L444.80,237.32 L445.60,237.87 L446.40,237.76 L447.20,238.18 L448.00,237.27 L448.80,237.97 L449.60,237.17 L450.40,237.91 L451.20,236.97 L452.00,236.94 L452.80,237.00 L453.60,237.22 L454.40,237.90 L455.20,237.94 L456.00,238.15 L456.80,237.72 L457.60,237.18 L458.40,238.39 L459.20,236.96 L460.00,238.22 L460.80,238.40 L461.60,237.84 L462.40,237.53 L463.20,238.11 L464.00,238.38 L464.80,237.21 L465.60,238.40 L466.40,237.51 L467.20,237.86 L468.00,238.07 L468.80,237.88 L469.60,238.36 L470.40,238.36 L471.20,237.75 L472.00,238.32 L472.80,238.19 L473.60,237.23 L474.40,237.06 L475.20,237.35 L476.00,237.44 L476.80,237.93 L477.60,237.77 L478.40,238.13 L479.20,238.40 L480.00,237.70 L480.80,237.68 L481.60,237.33 L482.40,238.30 L483.20,237.24 L484.00,237.99 L484.80,238.30 L485.60,237.85 L486.40,237.30 L487.20,237.72 L488.00,237.50 L488.80,238.10 L489.60,237.47 L490.40,237.23 L491.20,238.08 L492.00,237.47 L492.80,238.28 L493.60,237.54 L494.40,238.34 L495.20,237.44 L496.00,237.63 L496.80,238.14 L497.60,237.44 L498.40,238.06 L499.20,237.55 L500.00,238.02 L500.80,237.32 L501.60,237.83 L502.40,236.87 L503.20,237.33 L504.00,237.28 L504.80,238.17 L505.60,238.40 L506.40,237.90 L507.20,236.63 L508.00,237.95 L508.80,236.89 L509.60,236.86 L510.40,237.75 L511.20,237.56 L512.00,236.81 L512.80,237.57 L513.60,237.64 L514.40,237.71 L515.00,237.38" fill="none" stroke="#d21c28" stroke-width="1.75" stroke-linejoin="round"/>
<path d="M316.00,237.34 L316.80,236.89 L317.60,236.81 L318.40,235.92 L319.20,236.27 L320.00,236.62 L320.80,233.69 L321.50,234.12 L321.60,236.00 L322.40,235.02 L323.20,234.46 L324.00,233.47 L324.80,232.44 L325.60,233.02 L326.40,233.39 L327.20,232.40 L327.30,232.95 L328.00,232.28 L328.80,232.66 L329.60,232.79 L330.40,230.15 L331.00,231.35 L331.20,230.85 L332.00,231.17 L332.80,230.77 L333.60,230.22 L334.40,228.86 L334.80,228.11 L335.20,227.76 L336.00,226.93 L336.80,220.95 L337.10,222.51 L337.60,221.65 L338.30,222.52 L338.40,222.11 L339.20,220.85 L340.00,223.70 L340.80,222.29 L341.00,220.73 L341.60,217.48 L342.40,219.30 L343.20,220.48 L344.00,219.96 L344.80,216.12 L345.60,217.49 L346.40,215.66 L346.70,211.82 L347.20,215.28 L348.00,216.91 L348.80,218.54 L349.60,216.65 L350.40,216.38 L351.20,218.87 L352.00,219.64 L352.50,217.66 L352.80,215.89 L353.60,218.02 L354.40,221.12 L355.20,219.89 L355.30,219.42 L356.00,221.16 L356.80,221.70 L357.60,222.70 L358.20,223.91 L358.40,224.21 L359.20,225.49 L360.00,225.69 L360.80,226.74 L361.60,224.61 L362.00,224.78 L362.40,225.45 L363.20,225.39 L364.00,226.18 L364.80,227.46 L365.60,226.76 L366.00,227.51 L366.40,227.52 L367.20,229.83 L368.00,228.44 L368.80,227.70 L369.60,228.25 L370.40,228.53 L371.20,229.12 L371.70,227.92 L372.00,225.55 L372.80,227.58 L373.60,225.52 L374.40,227.02 L375.20,225.08 L375.50,226.80 L376.00,225.39 L376.80,224.48 L377.60,223.92 L378.40,225.20 L379.20,223.89 L379.40,224.39 L380.00,222.57 L380.80,221.60 L381.60,220.29 L382.40,217.90 L383.20,218.98 L384.00,216.60 L384.80,214.23 L385.60,211.65 L386.40,210.48 L387.00,206.79 L387.20,208.95 L388.00,202.20 L388.80,203.19 L389.60,199.25 L390.40,201.39 L391.00,198.55 L391.20,197.41 L392.00,193.09 L392.80,194.99 L393.60,191.09 L394.40,194.12 L394.80,189.16 L395.20,192.42 L396.00,192.59 L396.80,190.98 L397.60,184.41 L398.40,183.22 L398.60,181.71 L399.20,181.62 L400.00,179.36 L400.80,177.56 L401.50,178.92 L401.60,177.83 L402.40,179.03 L403.20,181.72 L404.00,178.24 L404.40,177.56 L404.80,179.70 L405.60,177.56 L406.40,178.33 L407.20,179.40 L408.00,179.20 L408.20,181.40 L408.80,181.45 L409.60,178.82 L410.40,183.39 L411.20,182.30 L412.00,184.68 L412.80,182.17 L413.60,177.56 L413.75,180.18 L414.40,186.42 L415.20,190.25 L416.00,187.61 L416.80,189.49 L417.50,193.95 L417.60,190.43 L418.40,194.39 L419.20,196.01 L420.00,198.11 L420.80,199.70 L421.25,203.65 L421.60,205.02 L422.40,203.67 L423.20,208.34 L424.00,212.19 L424.80,211.84 L425.00,213.64 L425.60,214.08 L426.40,212.22 L427.20,216.45 L428.00,221.62 L428.75,224.59 L428.80,223.17 L429.60,225.66 L430.40,225.62 L431.20,226.93 L432.00,227.94 L432.50,229.47 L432.80,230.99 L433.60,230.16 L434.40,230.36 L435.20,230.61 L436.00,230.13 L436.80,232.56 L437.60,232.18 L438.40,232.96 L439.20,233.55 L440.00,232.74 L440.80,233.87 L441.60,231.92 L442.40,235.57 L443.20,232.50 L444.00,233.98 L444.80,234.86 L445.60,233.88 L446.40,234.02 L447.20,233.48 L448.00,233.39 L448.80,235.01 L449.60,234.54 L450.00,234.34 L450.40,234.48 L451.20,234.92 L452.00,233.73 L452.80,234.55 L453.60,235.77 L454.40,234.66 L455.20,235.09 L456.00,235.17 L456.80,234.41 L457.60,234.60 L458.40,234.90 L459.20,234.86 L460.00,234.59 L460.80,235.67 L461.60,235.23 L462.40,234.48 L463.20,235.80 L464.00,235.76 L464.80,235.91 L465.00,234.81 L465.60,235.83 L466.40,234.79 L467.20,235.79 L468.00,235.38 L468.80,235.31 L469.60,235.88 L470.40,236.19 L471.20,234.88 L472.00,235.79 L472.80,235.18 L473.60,235.08 L474.40,236.50 L475.20,234.70 L476.00,235.44 L476.80,235.73 L477.60,235.78 L478.40,235.85 L479.20,235.36 L480.00,234.12 L480.80,235.59 L481.60,236.27 L482.40,235.70 L483.20,234.11 L484.00,235.47 L484.80,234.21 L485.60,236.03 L486.40,236.04 L487.20,236.29 L488.00,236.16 L488.80,235.57 L489.60,235.45 L490.40,236.72 L491.20,236.23 L492.00,236.08 L492.80,235.81 L493.60,234.63 L494.40,234.54 L495.20,235.27 L496.00,235.05 L496.80,236.13 L497.60,235.36 L498.40,236.77 L499.20,235.64 L500.00,235.40 L500.80,235.04 L501.60,235.70 L502.40,235.70 L503.20,236.30 L504.00,237.15 L504.80,236.07 L505.60,236.93 L506.40,235.91 L507.20,235.86 L508.00,236.59 L508.80,236.88 L509.60,235.78 L510.40,236.06 L511.20,235.37 L512.00,235.06 L512.80,234.56 L513.60,235.00 L514.40,236.26 L515.00,235.69" fill="none" stroke="#14793a" stroke-width="1.75" stroke-linejoin="round"/>
<rect x="315.5" y="140.1" width="199.0" height="98.5" fill="none" stroke="#444" stroke-width="1"/>
<line x1="315.5" y1="140.1" x2="315.5" y2="239.1" stroke="#111" stroke-width="1.1"/>
<line x1="315.5" y1="238.6" x2="514.5" y2="238.6" stroke="#111" stroke-width="1.1"/>
<line x1="312.30" y1="238.40" x2="315.5" y2="238.40" stroke="#222" stroke-width="1.1"/>
<text x="311.20" y="241.04" text-anchor="end" font-size="8" fill="#222" stroke="#222" stroke-width="0.25">0</text>
<line x1="313.50" y1="235.13" x2="315.5" y2="235.13" stroke="#222" stroke-width="0.95"/>
<line x1="313.50" y1="231.87" x2="315.5" y2="231.87" stroke="#222" stroke-width="0.95"/>
<line x1="313.50" y1="228.60" x2="315.5" y2="228.60" stroke="#222" stroke-width="0.95"/>
<line x1="313.50" y1="225.33" x2="315.5" y2="225.33" stroke="#222" stroke-width="0.95"/>
<line x1="312.30" y1="222.07" x2="315.5" y2="222.07" stroke="#222" stroke-width="1.1"/>
<text x="311.20" y="224.71" text-anchor="end" font-size="8" fill="#222" stroke="#222" stroke-width="0.25">20</text>
<line x1="313.50" y1="218.80" x2="315.5" y2="218.80" stroke="#222" stroke-width="0.95"/>
<line x1="313.50" y1="215.53" x2="315.5" y2="215.53" stroke="#222" stroke-width="0.95"/>
<line x1="313.50" y1="212.27" x2="315.5" y2="212.27" stroke="#222" stroke-width="0.95"/>
<line x1="313.50" y1="209.00" x2="315.5" y2="209.00" stroke="#222" stroke-width="0.95"/>
<line x1="312.30" y1="205.73" x2="315.5" y2="205.73" stroke="#222" stroke-width="1.1"/>
<text x="311.20" y="208.37" text-anchor="end" font-size="8" fill="#222" stroke="#222" stroke-width="0.25">40</text>
<line x1="313.50" y1="202.47" x2="315.5" y2="202.47" stroke="#222" stroke-width="0.95"/>
<line x1="313.50" y1="199.20" x2="315.5" y2="199.20" stroke="#222" stroke-width="0.95"/>
<line x1="313.50" y1="195.93" x2="315.5" y2="195.93" stroke="#222" stroke-width="0.95"/>
<line x1="313.50" y1="192.67" x2="315.5" y2="192.67" stroke="#222" stroke-width="0.95"/>
<line x1="312.30" y1="189.40" x2="315.5" y2="189.40" stroke="#222" stroke-width="1.1"/>
<text x="311.20" y="192.04" text-anchor="end" font-size="8" fill="#222" stroke="#222" stroke-width="0.25">60</text>
<line x1="313.50" y1="186.13" x2="315.5" y2="186.13" stroke="#222" stroke-width="0.95"/>
<line x1="313.50" y1="182.87" x2="315.5" y2="182.87" stroke="#222" stroke-width="0.95"/>
<line x1="313.50" y1="179.60" x2="315.5" y2="179.60" stroke="#222" stroke-width="0.95"/>
<line x1="313.50" y1="176.33" x2="315.5" y2="176.33" stroke="#222" stroke-width="0.95"/>
<line x1="312.30" y1="173.07" x2="315.5" y2="173.07" stroke="#222" stroke-width="1.1"/>
<text x="311.20" y="175.71" text-anchor="end" font-size="8" fill="#222" stroke="#222" stroke-width="0.25">80</text>
<line x1="313.50" y1="169.80" x2="315.5" y2="169.80" stroke="#222" stroke-width="0.95"/>
<line x1="313.50" y1="166.53" x2="315.5" y2="166.53" stroke="#222" stroke-width="0.95"/>
<line x1="313.50" y1="163.27" x2="315.5" y2="163.27" stroke="#222" stroke-width="0.95"/>
<line x1="313.50" y1="160.00" x2="315.5" y2="160.00" stroke="#222" stroke-width="0.95"/>
<line x1="312.30" y1="156.73" x2="315.5" y2="156.73" stroke="#222" stroke-width="1.1"/>
<text x="311.20" y="159.37" text-anchor="end" font-size="8" fill="#222" stroke="#222" stroke-width="0.25">100</text>
<line x1="313.50" y1="153.47" x2="315.5" y2="153.47" stroke="#222" stroke-width="0.95"/>
<line x1="313.50" y1="150.20" x2="315.5" y2="150.20" stroke="#222" stroke-width="0.95"/>
<line x1="313.50" y1="146.93" x2="315.5" y2="146.93" stroke="#222" stroke-width="0.95"/>
<line x1="313.50" y1="143.67" x2="315.5" y2="143.67" stroke="#222" stroke-width="0.95"/>
<line x1="312.30" y1="140.40" x2="315.5" y2="140.40" stroke="#222" stroke-width="1.1"/>
<text x="311.20" y="143.04" text-anchor="end" font-size="8" fill="#222" stroke="#222" stroke-width="0.25">120</text>
<line x1="315.50" y1="238.6" x2="315.50" y2="242.40" stroke="#222" stroke-width="0.7"/>
<line x1="330.48" y1="238.6" x2="330.48" y2="240.60" stroke="#222" stroke-width="0.7"/>
<line x1="339.24" y1="238.6" x2="339.24" y2="240.60" stroke="#222" stroke-width="0.7"/>
<line x1="345.45" y1="238.6" x2="345.45" y2="240.60" stroke="#222" stroke-width="0.7"/>
<line x1="350.27" y1="238.6" x2="350.27" y2="240.60" stroke="#222" stroke-width="0.7"/>
<line x1="354.21" y1="238.6" x2="354.21" y2="240.60" stroke="#222" stroke-width="0.7"/>
<line x1="357.54" y1="238.6" x2="357.54" y2="240.60" stroke="#222" stroke-width="0.7"/>
<line x1="360.43" y1="238.6" x2="360.43" y2="240.60" stroke="#222" stroke-width="0.7"/>
<line x1="362.97" y1="238.6" x2="362.97" y2="240.60" stroke="#222" stroke-width="0.7"/>
<line x1="365.25" y1="238.6" x2="365.25" y2="242.40" stroke="#222" stroke-width="0.7"/>
<line x1="380.23" y1="238.6" x2="380.23" y2="240.60" stroke="#222" stroke-width="0.7"/>
<line x1="388.99" y1="238.6" x2="388.99" y2="240.60" stroke="#222" stroke-width="0.7"/>
<line x1="395.20" y1="238.6" x2="395.20" y2="240.60" stroke="#222" stroke-width="0.7"/>
<line x1="400.02" y1="238.6" x2="400.02" y2="240.60" stroke="#222" stroke-width="0.7"/>
<line x1="403.96" y1="238.6" x2="403.96" y2="240.60" stroke="#222" stroke-width="0.7"/>
<line x1="407.29" y1="238.6" x2="407.29" y2="240.60" stroke="#222" stroke-width="0.7"/>
<line x1="410.18" y1="238.6" x2="410.18" y2="240.60" stroke="#222" stroke-width="0.7"/>
<line x1="412.72" y1="238.6" x2="412.72" y2="240.60" stroke="#222" stroke-width="0.7"/>
<line x1="415.00" y1="238.6" x2="415.00" y2="242.40" stroke="#222" stroke-width="0.7"/>
<line x1="429.98" y1="238.6" x2="429.98" y2="240.60" stroke="#222" stroke-width="0.7"/>
<line x1="438.74" y1="238.6" x2="438.74" y2="240.60" stroke="#222" stroke-width="0.7"/>
<line x1="444.95" y1="238.6" x2="444.95" y2="240.60" stroke="#222" stroke-width="0.7"/>
<line x1="449.77" y1="238.6" x2="449.77" y2="240.60" stroke="#222" stroke-width="0.7"/>
<line x1="453.71" y1="238.6" x2="453.71" y2="240.60" stroke="#222" stroke-width="0.7"/>
<line x1="457.04" y1="238.6" x2="457.04" y2="240.60" stroke="#222" stroke-width="0.7"/>
<line x1="459.93" y1="238.6" x2="459.93" y2="240.60" stroke="#222" stroke-width="0.7"/>
<line x1="462.47" y1="238.6" x2="462.47" y2="240.60" stroke="#222" stroke-width="0.7"/>
<line x1="464.75" y1="238.6" x2="464.75" y2="242.40" stroke="#222" stroke-width="0.7"/>
<line x1="479.73" y1="238.6" x2="479.73" y2="240.60" stroke="#222" stroke-width="0.7"/>
<line x1="488.49" y1="238.6" x2="488.49" y2="240.60" stroke="#222" stroke-width="0.7"/>
<line x1="494.70" y1="238.6" x2="494.70" y2="240.60" stroke="#222" stroke-width="0.7"/>
<line x1="499.52" y1="238.6" x2="499.52" y2="240.60" stroke="#222" stroke-width="0.7"/>
<line x1="503.46" y1="238.6" x2="503.46" y2="240.60" stroke="#222" stroke-width="0.7"/>
<line x1="506.79" y1="238.6" x2="506.79" y2="240.60" stroke="#222" stroke-width="0.7"/>
<line x1="509.68" y1="238.6" x2="509.68" y2="240.60" stroke="#222" stroke-width="0.7"/>
<line x1="512.22" y1="238.6" x2="512.22" y2="240.60" stroke="#222" stroke-width="0.7"/>
<line x1="514.50" y1="238.6" x2="514.50" y2="242.40" stroke="#222" stroke-width="0.7"/>
<text transform="translate(296,190) rotate(-90)" text-anchor="middle" font-size="8.2" fill="#222" stroke="#222" stroke-width="0.2">Counts</text>
<path d="M64.20,495.60 L64.20,480.40 L64.70,475.43 L65.20,475.52 L65.70,473.31 L65.80,478.62 L66.20,469.33 L66.70,470.10 L67.20,472.01 L67.70,470.45 L68.20,465.50 L68.70,458.34 L69.20,445.30 L69.60,442.28 L69.70,447.69 L70.20,442.91 L70.70,426.10 L71.20,426.02 L71.70,429.85 L72.20,421.57 L72.50,420.18 L72.70,413.08 L73.20,399.02 L73.50,400.05 L73.70,394.11 L74.20,387.82 L74.40,384.43 L74.70,389.40 L75.20,380.00 L75.50,361.11 L75.70,371.74 L76.20,360.27 L76.70,347.27 L77.00,348.87 L77.20,345.68 L77.70,325.39 L78.00,325.54 L78.20,341.65 L78.60,327.57 L78.70,333.54 L79.00,321.39 L79.20,319.83 L79.40,319.14 L79.70,331.71 L80.00,319.56 L80.20,338.76 L80.70,327.90 L81.00,327.44 L81.20,326.50 L81.70,317.02 L82.00,319.01 L82.20,327.10 L82.70,331.35 L83.00,323.59 L83.20,317.28 L83.60,317.65 L83.70,319.89 L84.00,304.59 L84.20,295.79 L84.40,314.02 L84.70,326.80 L85.00,324.60 L85.20,325.39 L85.70,333.93 L86.00,337.38 L86.20,325.45 L86.70,328.51 L87.00,324.49 L87.20,329.58 L87.70,339.88 L88.00,347.91 L88.20,353.04 L88.70,369.63 L89.00,374.01 L89.20,377.85 L89.70,383.85 L90.00,390.18 L90.20,396.69 L90.50,391.47 L90.70,402.80 L91.20,403.77 L91.70,410.23 L92.20,407.19 L92.70,415.09 L93.20,420.45 L93.40,417.98 L93.70,430.19 L94.20,424.32 L94.70,425.21 L95.20,425.11 L95.70,440.76 L96.20,440.82 L96.70,451.93 L97.20,440.41 L97.70,450.62 L98.20,452.31 L98.70,462.76 L99.20,461.17 L99.70,465.90 L100.00,470.05 L100.20,470.63 L100.70,471.63 L101.20,473.13 L101.70,477.71 L102.20,470.05 L102.70,476.01 L103.00,476.73 L103.20,477.05 L103.70,478.75 L104.20,479.01 L104.70,478.03 L105.20,480.88 L105.70,477.57 L105.80,481.53 L106.20,477.86 L106.70,482.99 L107.20,479.71 L107.70,478.48 L108.20,476.63 L108.70,476.36 L109.20,482.27 L109.70,481.24 L109.80,475.33 L110.20,480.28 L110.70,483.11 L111.20,475.80 L111.70,476.93 L112.20,481.60 L112.70,479.69 L113.20,474.30 L113.70,478.83 L113.80,479.09 L114.20,478.80 L114.70,474.21 L115.20,482.52 L115.70,477.22 L116.20,478.11 L116.70,477.33 L117.20,476.78 L117.70,478.81 L117.90,477.39 L118.20,477.72 L118.70,474.99 L119.20,484.78 L119.70,478.94 L120.20,478.18 L120.70,481.93 L121.20,474.42 L121.70,476.61 L122.00,482.55 L122.20,478.72 L122.70,476.26 L123.20,478.03 L123.70,480.46 L124.20,477.04 L124.70,477.98 L125.20,481.40 L125.70,479.75 L126.00,475.86 L126.20,476.27 L126.70,482.09 L127.20,481.52 L127.70,476.59 L128.20,478.95 L128.70,480.59 L129.20,481.76 L129.70,480.77 L130.00,479.16 L130.20,487.23 L130.70,479.70 L131.20,484.24 L131.70,485.42 L132.20,484.12 L132.70,485.38 L133.20,485.43 L133.70,483.25 L134.20,484.59 L134.70,481.65 L135.20,487.58 L135.40,482.47 L135.70,487.12 L136.20,484.48 L136.70,485.91 L137.20,483.59 L137.70,488.57 L138.20,486.15 L138.70,483.55 L139.20,484.54 L139.70,487.93 L140.20,486.33 L140.70,486.13 L140.80,487.26 L141.20,486.19 L141.70,486.82 L142.20,492.85 L142.70,487.95 L143.20,483.13 L143.70,490.18 L144.20,490.29 L144.70,489.93 L145.20,491.54 L145.70,491.01 L146.20,490.88 L146.70,487.78 L147.20,491.38 L147.70,490.29 L148.20,491.58 L148.70,492.80 L149.20,492.54 L149.70,493.32 L150.20,489.94 L150.70,492.34 L151.20,494.13 L151.70,492.31 L152.20,489.72 L152.70,492.23 L153.20,492.77 L153.70,492.51 L154.20,493.48 L154.70,494.34 L155.20,491.62 L155.70,495.60 L156.20,493.97 L156.70,494.47 L157.20,493.77 L157.70,494.44 L158.20,492.48 L158.70,492.12 L159.20,493.72 L159.70,495.28 L160.20,494.81 L160.70,494.51 L161.20,495.11 L161.70,495.51 L162.00,492.74 L162.20,493.53 L162.70,495.35 L163.20,495.32 L163.70,494.54 L164.20,495.23 L164.70,494.24 L165.20,494.14 L165.70,494.81 L166.20,495.60 L166.70,495.21 L167.20,495.60 L167.70,495.36 L168.00,493.90 L168.00,495.60 Z" fill="#0a0a0a" stroke="#000" stroke-width="0.6"/>
<path d="M138.00,494.61 L138.70,495.60 L139.40,494.24 L140.00,494.08 L140.10,495.60 L140.80,495.60 L141.50,494.36 L142.20,494.62 L142.90,494.15 L143.00,495.01 L143.60,491.50 L144.30,489.81 L145.00,489.37 L145.70,485.49 L146.40,485.19 L147.10,486.80 L147.80,482.07 L148.50,484.12 L149.20,477.24 L149.30,479.74 L149.90,477.81 L150.60,476.75 L151.30,467.32 L152.00,469.50 L152.70,467.84 L153.40,464.84 L153.50,460.79 L154.10,457.40 L154.80,452.43 L155.50,447.58 L156.20,434.10 L156.60,444.47 L156.90,442.13 L157.60,437.06 L158.30,421.85 L158.70,414.66 L159.00,419.18 L159.70,416.72 L160.40,409.61 L160.70,396.44 L161.10,391.74 L161.80,386.09 L162.50,388.08 L162.80,378.37 L163.20,366.16 L163.80,345.65 L163.90,338.15 L164.60,330.56 L165.00,318.86 L165.30,321.70 L166.00,313.16 L166.30,313.12 L166.70,331.87 L167.40,330.14 L167.70,335.31 L168.10,331.40 L168.80,318.47 L169.00,313.12 L169.50,326.55 L170.20,317.09 L170.40,343.38 L170.90,337.19 L171.50,340.12 L171.60,337.54 L172.30,344.29 L173.00,351.44 L173.70,368.13 L174.40,376.27 L175.00,372.39 L175.10,381.78 L175.80,399.36 L176.50,407.72 L177.20,415.69 L177.90,416.33 L178.00,419.94 L178.60,422.72 L179.30,436.17 L179.50,434.90 L180.00,434.73 L180.70,443.04 L181.40,442.37 L182.10,451.27 L182.80,453.02 L183.00,454.03 L183.50,459.74 L184.20,454.79 L184.90,461.78 L185.60,462.47 L186.30,463.37 L186.40,463.91 L187.00,464.21 L187.70,468.49 L188.40,471.00 L189.10,471.02 L189.80,478.03 L190.50,478.35 L190.80,478.43 L191.20,477.54 L191.90,473.24 L192.60,478.03 L193.30,476.68 L194.00,471.62 L194.70,477.44 L195.40,474.35 L196.10,480.10 L196.80,478.21 L197.50,480.93 L198.20,479.46 L198.90,476.30 L199.40,484.33 L199.60,477.95 L200.30,478.91 L201.00,481.72 L201.70,484.54 L202.40,480.51 L203.10,482.58 L203.80,480.79 L204.50,481.75 L205.20,477.79 L205.90,483.18 L206.60,485.63 L207.30,482.80 L208.00,483.06 L208.70,480.40 L209.40,482.01 L210.10,483.49 L210.80,481.00 L211.50,487.82 L212.20,486.70 L212.90,487.63 L213.60,486.58 L214.30,489.14 L215.00,484.67 L215.70,486.91 L216.40,490.00 L217.10,489.18 L217.80,486.46 L218.40,485.54 L218.50,483.06 L219.20,481.47 L219.90,487.15 L220.60,490.38 L221.30,492.97 L222.00,488.41 L222.70,490.83 L223.40,490.34 L224.10,490.99 L224.80,490.41 L225.50,488.57 L226.20,490.49 L226.90,491.34 L227.00,492.85 L227.60,493.98 L228.30,492.09 L229.00,491.48 L229.70,488.63 L230.40,491.37 L231.10,490.13 L231.80,492.56 L232.50,493.70 L233.20,493.44 L233.90,493.16 L234.60,488.98 L235.30,493.47 L236.00,491.13 L236.70,493.75 L237.40,491.23 L238.10,492.11 L238.80,492.96 L239.50,492.89 L240.00,493.79 L240.20,492.32 L240.90,493.58 L241.60,494.64 L242.30,494.74 L243.00,492.88 L243.70,491.11 L244.40,493.00 L245.10,493.40 L245.80,492.94 L246.50,491.71 L247.20,493.12 L247.90,493.95 L248.60,492.14 L249.30,493.02 L250.00,491.74 L250.70,493.41 L251.40,495.11 L252.10,495.31 L252.80,491.87 L253.50,491.85 L254.20,494.07 L254.90,494.34 L255.60,492.35 L256.30,495.21 L257.00,495.02 L257.70,493.41 L258.40,494.56 L259.10,494.20 L259.80,494.41 L260.00,493.91 L260.50,492.83 L261.20,494.17 L261.90,493.62 L262.60,495.60 L263.30,494.33 L264.00,495.14 L264.70,495.52 L265.40,495.19 L266.10,494.65 L266.80,493.40 L267.50,495.60 L268.20,494.30 L268.90,494.82 L269.60,494.67 L270.30,493.36 L271.00,493.83 L271.70,493.04 L272.40,494.52 L273.10,495.06 L273.80,494.60 L274.50,494.15 L275.20,494.22 L275.90,495.46 L276.60,494.32 L277.30,494.19 L278.00,491.99 L278.70,492.62 L279.40,495.26 L280.10,494.72 L280.80,495.60 L281.50,495.02 L282.20,494.16 L282.90,493.32 L283.60,495.17 L284.30,495.10 L285.00,495.60 L285.70,494.65 L286.40,495.50 L287.10,495.01 L287.80,495.34 L288.50,494.61 L289.20,495.60 L289.90,495.60 L290.60,492.56 L291.30,495.60 L292.00,495.57 L292.70,492.86 L293.40,491.89 L294.10,495.60 L294.80,494.92 L295.50,494.27 L296.20,493.02 L296.90,495.50 L297.60,494.83 L298.30,493.91 L299.00,494.23 L299.70,494.96 L300.40,494.75 L301.10,495.60 L301.80,494.86 L302.50,494.89 L303.20,494.45 L303.90,495.16 L304.60,494.25 L305.30,493.78 L306.00,494.55 L306.70,494.38 L307.40,494.65 L308.10,494.70 L308.80,495.34 L309.50,494.44 L310.20,494.81 L310.90,492.92 L311.60,493.38 L312.30,494.41 L313.00,495.40 L313.70,495.60 L314.40,493.75 L315.10,494.55 L315.80,494.37 L316.50,495.60 L317.20,494.01 L317.90,494.41 L318.60,495.60 L319.30,495.20 L320.00,494.60 L320.70,494.78 L321.40,495.07 L322.10,494.92 L322.80,495.05 L323.50,494.72 L324.00,493.65" fill="none" stroke="#25944f" stroke-width="1.25" stroke-linejoin="round"/>
<path d="M140.00,494.82 L140.70,494.34 L141.40,495.26 L142.10,495.46 L142.80,495.60 L143.50,493.46 L144.20,492.72 L144.90,490.74 L145.60,490.93 L146.30,485.13 L147.00,483.90 L147.70,484.74 L148.40,484.27 L149.10,482.13 L149.30,482.94 L149.80,478.60 L150.50,477.95 L151.20,471.17 L151.90,471.77 L152.60,469.08 L153.30,458.80 L153.50,467.14 L154.00,467.72 L154.70,455.02 L155.40,462.11 L156.10,446.57 L156.60,439.73 L156.80,442.39 L157.50,435.72 L158.20,440.73 L158.70,420.46 L158.90,419.29 L159.60,421.88 L160.30,394.29 L160.70,411.21 L161.00,411.50 L161.70,405.87 L162.40,385.72 L162.80,379.38 L163.10,374.86 L163.80,372.28 L164.50,367.63 L165.20,348.74 L165.90,358.12 L166.30,357.88 L166.60,336.31 L167.30,339.03 L167.70,336.31 L168.00,336.31 L168.70,344.21 L169.40,344.83 L170.10,336.31 L170.40,346.93 L170.80,336.98 L171.50,337.90 L171.70,346.90 L172.20,336.31 L172.90,353.73 L173.00,341.01 L173.60,348.93 L174.30,346.54 L175.00,373.60 L175.50,374.25 L175.70,373.46 L176.40,380.84 L177.10,385.46 L177.70,397.72 L177.80,400.56 L178.50,399.84 L179.20,399.15 L179.90,427.12 L180.60,424.69 L181.20,425.40 L181.30,429.67 L182.00,424.67 L182.70,437.25 L183.40,443.51 L184.10,436.02 L184.80,457.61 L185.50,448.27 L185.60,434.33 L186.20,447.32 L186.90,447.10 L187.60,454.87 L188.30,451.79 L189.00,453.75 L189.70,445.92 L190.40,460.49 L190.80,469.13 L191.10,455.41 L191.80,451.62 L192.50,462.63 L193.20,468.62 L193.90,466.56 L194.60,461.48 L195.30,466.75 L196.00,465.52 L196.70,475.46 L197.40,468.69 L198.10,464.09 L198.80,468.65 L199.50,472.03 L200.20,464.63 L200.90,465.39 L201.60,471.31 L202.30,472.80 L203.00,465.89 L203.70,473.03 L204.40,472.12 L204.60,465.23 L205.10,471.33 L205.80,474.19 L206.50,479.80 L207.20,473.24 L207.90,474.11 L208.60,476.38 L209.30,471.62 L210.00,479.47 L210.70,480.83 L211.40,478.65 L211.50,476.33 L212.10,481.41 L212.80,480.71 L213.50,480.01 L214.20,477.90 L214.90,480.38 L215.60,475.60 L216.30,485.70 L217.00,478.17 L217.70,481.54 L218.40,478.80 L219.10,474.86 L219.80,481.21 L220.50,480.88 L221.20,479.53 L221.90,485.93 L222.60,480.91 L223.30,480.95 L224.00,483.90 L224.70,482.28 L225.40,484.06 L226.10,486.72 L226.80,488.46 L227.00,482.96 L227.50,481.21 L228.20,487.65 L228.90,485.13 L229.60,489.08 L230.30,487.56 L231.00,487.85 L231.70,489.53 L232.40,487.35 L233.10,485.24 L233.80,486.44 L234.50,489.01 L235.20,485.12 L235.90,487.92 L236.60,484.90 L237.30,491.49 L238.00,483.07 L238.70,489.67 L239.40,491.84 L240.00,491.79 L240.10,488.01 L240.80,488.21 L241.50,488.52 L242.20,489.04 L242.90,492.35 L243.60,490.68 L244.30,494.67 L245.00,492.22 L245.70,489.64 L246.40,494.17 L247.10,487.02 L247.80,489.06 L248.50,493.21 L249.20,490.25 L249.90,490.67 L250.60,491.91 L251.30,490.89 L252.00,492.36 L252.70,492.05 L253.40,491.25 L254.10,491.43 L254.80,491.71 L255.50,491.76 L256.20,490.92 L256.90,491.26 L257.60,494.18 L258.30,493.62 L259.00,490.54 L259.70,490.48 L260.40,491.97 L261.10,493.19 L261.80,491.77 L262.50,492.04 L263.20,495.07 L263.90,493.00 L264.60,494.97 L265.30,493.82 L266.00,493.27 L266.50,491.21 L266.70,495.60 L267.40,493.82 L268.10,492.55 L268.80,492.58 L269.50,492.38 L270.20,494.67 L270.90,493.62 L271.60,494.04 L272.30,491.90 L273.00,493.68 L273.70,493.50 L274.40,493.31 L275.10,495.13 L275.80,492.95 L276.50,494.91 L277.20,493.39 L277.90,494.48 L278.60,492.22 L279.30,493.61 L280.00,491.40 L280.70,495.60 L281.40,492.10 L282.10,492.72 L282.80,493.40 L283.50,491.21 L284.20,495.41 L284.90,493.54 L285.60,492.38 L286.30,493.13 L287.00,494.27 L287.70,493.12 L288.40,494.34 L289.10,494.27 L289.80,494.64 L290.50,492.75 L291.20,493.59 L291.90,491.17 L292.60,493.04 L293.30,495.60 L294.00,493.12 L294.70,495.20 L295.40,494.33 L296.10,493.90 L296.80,495.24 L297.50,494.62 L298.20,494.82 L298.90,493.97 L299.60,494.21 L300.30,494.26 L301.00,492.38 L301.70,493.62 L302.40,493.75 L303.10,493.08 L303.80,492.32 L304.50,492.82 L305.20,495.33 L305.90,493.74 L306.60,493.52 L307.30,493.35 L308.00,494.47 L308.70,494.27 L309.40,495.24 L310.10,494.74 L310.80,495.53 L311.50,493.17 L312.20,494.93 L312.90,495.34 L313.60,494.18 L314.30,494.37 L315.00,495.14 L315.70,494.15 L316.40,495.11 L317.10,494.07 L317.80,494.58 L318.50,494.37 L319.20,494.94 L319.90,495.21 L320.60,494.39 L321.30,495.60 L322.00,493.42 L322.70,495.07 L323.40,492.86 L324.00,494.12" fill="none" stroke="#0a0a0a" stroke-width="1.6" stroke-linejoin="round"/>
<path d="M168.00,493.68 L168.70,494.77 L169.40,494.59 L170.00,493.92 L170.10,494.15 L170.80,494.15 L171.50,494.86 L172.20,495.35 L172.90,493.79 L173.60,494.57 L174.30,492.92 L175.00,493.44 L175.70,494.43 L175.80,493.18 L176.40,492.30 L177.10,492.62 L177.80,493.63 L178.50,491.77 L179.20,491.25 L179.90,490.13 L180.60,489.90 L181.20,492.38 L181.30,491.52 L182.00,488.38 L182.70,491.92 L183.40,485.60 L184.10,488.15 L184.30,486.87 L184.80,480.98 L185.50,482.95 L186.20,481.83 L186.50,479.37 L186.90,478.93 L187.60,477.97 L188.30,472.35 L188.70,464.03 L189.00,467.90 L189.70,468.56 L190.40,468.16 L191.10,465.03 L191.80,464.61 L192.00,470.08 L192.50,459.82 L193.00,456.93 L193.20,448.41 L193.90,453.70 L194.60,443.12 L195.30,451.62 L195.90,441.17 L196.00,446.10 L196.70,444.21 L197.40,432.33 L198.10,439.27 L198.70,432.07 L198.80,435.00 L199.50,426.50 L200.20,425.00 L200.90,437.47 L201.60,420.81 L202.30,425.29 L203.00,420.81 L203.70,420.81 L204.40,420.81 L205.10,439.54 L205.80,420.81 L206.00,427.15 L206.50,434.30 L207.20,423.32 L207.90,420.81 L208.60,432.05 L208.80,420.81 L209.30,426.14 L210.00,430.39 L210.70,432.40 L211.40,437.47 L211.70,433.05 L212.10,433.59 L212.80,430.74 L213.50,430.29 L214.20,440.80 L214.90,434.93 L215.60,447.85 L216.00,439.46 L216.30,448.45 L217.00,446.15 L217.70,440.70 L218.40,447.87 L219.10,442.16 L219.80,452.27 L220.40,448.92 L220.50,442.85 L221.20,438.60 L221.90,452.12 L222.60,439.30 L223.30,446.18 L224.00,437.05 L224.70,449.88 L225.40,451.54 L226.10,448.32 L226.80,455.61 L227.50,450.68 L228.20,452.27 L228.90,446.62 L229.00,451.22 L229.60,458.70 L230.30,459.19 L231.00,457.81 L231.70,463.03 L232.40,463.63 L233.10,444.66 L233.40,458.03 L233.80,448.20 L234.50,456.92 L235.20,454.94 L235.90,460.48 L236.60,446.32 L237.30,453.52 L237.70,443.65 L238.00,455.28 L238.70,447.54 L239.40,448.11 L240.10,462.84 L240.80,455.60 L241.50,463.38 L242.00,464.85 L242.20,458.93 L242.90,454.02 L243.60,449.66 L244.30,455.38 L245.00,447.32 L245.70,447.40 L246.30,448.52 L246.40,453.24 L247.10,449.86 L247.80,434.90 L248.50,457.15 L249.20,454.98 L249.90,459.60 L250.60,450.90 L250.70,449.21 L251.30,450.84 L252.00,447.48 L252.70,456.20 L253.40,447.84 L254.10,458.68 L254.80,447.39 L255.00,447.54 L255.50,457.35 L256.20,450.43 L256.90,459.85 L257.60,461.53 L258.30,461.69 L259.00,460.60 L259.30,460.86 L259.70,456.50 L260.40,448.70 L261.10,458.12 L261.80,461.23 L262.50,454.97 L263.20,459.54 L263.60,458.34 L263.90,457.50 L264.60,458.47 L265.30,464.34 L266.00,463.59 L266.70,459.89 L267.40,466.31 L268.00,466.72 L268.10,464.69 L268.80,465.18 L269.50,468.96 L270.20,466.55 L270.90,469.62 L271.60,475.30 L272.30,469.12 L273.00,475.68 L273.70,463.35 L274.40,474.05 L275.10,477.11 L275.80,474.71 L276.50,474.11 L276.60,474.15 L277.20,479.03 L277.90,478.29 L278.60,480.78 L279.30,483.82 L280.00,489.07 L280.70,486.75 L281.00,493.01 L281.40,489.57 L282.10,485.26 L282.80,488.21 L283.50,489.12 L284.20,491.17 L284.90,491.53 L285.60,491.63 L286.30,493.26 L286.70,494.93 L287.00,489.48 L287.70,488.62 L288.40,492.51 L289.10,490.41 L289.80,493.70 L290.50,491.38 L291.20,494.16 L291.90,490.85 L292.50,492.25 L292.60,494.21 L293.30,491.62 L294.00,490.11 L294.70,492.55 L295.40,492.69 L296.10,492.69 L296.80,492.60 L297.50,491.14 L298.20,491.17 L298.30,495.60 L298.90,491.38 L299.60,493.33 L300.30,490.96 L301.00,492.62 L301.70,492.06 L302.40,494.00 L302.60,495.05 L303.10,493.27 L303.80,492.72 L304.50,493.29 L305.20,493.56 L305.90,494.40 L306.60,494.28 L307.00,495.60 L307.30,495.13 L308.00,495.60 L308.70,495.07 L309.40,495.27 L310.10,495.00 L310.80,494.28 L311.50,495.01 L312.20,495.60 L312.90,494.06 L313.60,494.96 L314.30,494.52 L315.00,495.60 L315.70,494.50 L316.40,494.00 L317.10,495.60 L317.80,494.24 L318.50,495.60 L319.20,495.60 L319.90,495.13 L320.60,493.67 L321.30,495.60 L322.00,495.59 L322.70,495.12 L323.40,494.71 L324.00,495.24" fill="none" stroke="#e02428" stroke-width="1.25" stroke-linejoin="round"/>
<path d="M64.30,495.19 L65.00,495.31 L65.70,494.75 L66.40,494.23 L67.10,494.96 L67.80,494.66 L68.50,494.46 L69.20,494.35 L69.90,495.51 L70.60,494.51 L71.30,494.87 L72.00,495.29 L72.70,495.35 L73.40,495.02 L74.10,495.58 L74.80,495.60 L75.50,494.81 L76.20,494.29 L76.90,495.03 L77.60,494.31 L78.30,495.14 L79.00,495.58 L79.70,495.60 L80.40,495.45 L81.10,493.79 L81.80,495.02 L82.50,495.60 L83.20,494.85 L83.90,495.14 L84.60,495.20 L85.30,495.32 L86.00,495.47 L86.70,495.12 L87.40,495.60 L88.10,495.60 L88.80,495.09 L89.50,494.29 L90.20,494.52 L90.90,493.50 L91.60,493.97 L92.30,495.60 L93.00,494.47 L93.70,494.14 L94.40,494.69 L95.10,495.60 L95.80,495.12 L96.50,495.45 L97.20,494.58 L97.90,494.01 L98.60,494.38 L99.30,495.60 L100.00,494.27 L100.70,494.85 L101.40,494.13 L102.10,495.07 L102.80,494.71 L103.50,494.91 L104.20,495.02 L104.90,493.76 L105.60,494.21 L106.30,494.56 L107.00,495.60 L107.70,495.38 L108.40,494.86 L109.10,494.45 L109.80,495.60 L110.50,494.27 L111.20,495.60 L111.90,495.60 L112.60,494.12 L113.30,495.33 L114.00,494.65 L114.70,494.17 L115.40,494.46 L116.10,495.60 L116.80,495.34 L117.50,495.36 L118.20,494.63 L118.90,494.67 L119.60,494.10 L120.30,494.54 L121.00,494.21 L121.70,495.05 L122.40,495.14 L123.10,495.60 L123.80,495.39 L124.50,495.60 L125.20,495.51 L125.90,493.80 L126.60,494.72 L127.30,494.85 L128.00,494.97 L128.70,495.26 L129.40,494.95 L130.10,494.14 L130.80,495.60 L131.50,495.36 L132.20,495.56 L132.90,495.14 L133.60,492.96 L134.30,493.50 L135.00,493.42 L135.70,495.60 L136.40,495.60 L137.10,494.18 L137.80,495.55 L138.50,494.64 L139.20,495.60 L139.90,494.03 L140.60,494.95 L141.30,495.15 L142.00,492.77 L142.70,494.73 L143.40,495.60 L144.10,495.54 L144.80,493.96 L145.50,495.58 L146.20,493.74 L146.90,495.60 L147.60,494.76 L148.30,495.60 L149.00,494.16 L149.70,494.06 L150.40,494.60 L151.10,495.15 L151.80,495.43 L152.50,495.11 L153.20,495.60 L153.90,495.56 L154.60,494.03 L155.30,495.34 L156.00,494.97 L156.70,493.92 L157.40,494.69 L158.10,494.91 L158.80,494.14 L159.50,494.58 L160.20,494.63 L160.90,494.77 L161.60,493.85 L162.30,493.67 L163.00,495.60 L163.70,493.47 L164.40,494.32 L165.10,495.14 L165.80,494.25 L166.00,495.60 L166.50,494.47 L167.20,493.40 L167.90,494.47 L168.00,495.60 L168.60,491.75 L169.30,489.70 L170.00,483.77 L170.70,480.32 L171.40,472.91 L172.10,473.77 L172.20,471.24 L172.80,465.22 L173.50,462.67 L174.20,452.03 L174.90,434.91 L175.30,444.75 L175.60,436.54 L176.30,432.76 L177.00,421.11 L177.40,425.78 L177.70,410.20 L178.40,410.27 L179.00,404.13 L179.10,404.26 L179.80,387.93 L180.50,385.97 L181.20,358.42 L181.50,362.50 L181.90,349.45 L182.50,324.16 L182.60,321.20 L183.30,320.92 L184.00,317.18 L184.40,306.80 L184.70,298.11 L185.40,298.69 L186.10,292.18 L186.50,292.18 L186.80,309.35 L187.50,296.92 L188.20,300.34 L188.70,308.56 L188.90,304.01 L189.60,329.62 L190.30,340.88 L190.40,342.66 L191.00,333.03 L191.70,363.12 L192.40,363.99 L193.00,363.07 L193.10,366.88 L193.80,387.08 L194.50,385.90 L195.20,405.47 L195.90,397.10 L196.00,399.24 L196.60,415.10 L197.00,423.71 L197.30,419.11 L198.00,427.22 L198.70,432.33 L199.40,430.43 L200.10,429.66 L200.30,438.15 L200.80,442.12 L201.50,444.46 L202.20,437.57 L202.90,450.22 L203.60,453.01 L204.30,448.52 L204.60,451.60 L205.00,448.73 L205.70,453.95 L206.40,459.87 L207.10,454.20 L207.80,465.53 L208.50,460.24 L209.20,465.38 L209.80,461.82 L209.90,466.62 L210.60,465.28 L211.30,468.31 L212.00,467.59 L212.70,467.51 L213.40,471.27 L214.10,471.40 L214.80,466.92 L215.00,471.86 L215.50,464.67 L216.20,472.50 L216.90,477.50 L217.60,478.96 L218.30,469.76 L219.00,475.60 L219.70,477.91 L220.40,470.43 L221.10,476.37 L221.80,477.52 L221.90,474.11 L222.50,476.74 L223.20,476.26 L223.90,477.42 L224.60,480.36 L225.30,481.57 L226.00,477.22 L226.70,478.91 L227.40,480.93 L228.10,487.87 L228.80,483.22 L229.50,482.04 L230.20,478.95 L230.90,481.01 L231.60,478.13 L232.30,487.54 L233.00,484.57 L233.70,482.58 L234.40,486.41 L235.10,483.45 L235.80,482.78 L236.50,482.82 L237.20,482.10 L237.90,488.14 L238.60,487.27 L239.20,485.24 L239.30,484.44 L240.00,487.29 L240.70,486.82 L241.40,486.56 L242.10,484.41 L242.80,485.43 L243.50,484.55 L244.20,486.03 L244.90,481.71 L245.60,487.85 L246.30,487.47 L247.00,487.59 L247.70,485.40 L247.90,483.62 L248.40,487.84 L249.10,488.13 L249.80,486.70 L250.50,490.09 L251.20,490.09 L251.90,494.52 L252.60,489.58 L253.30,491.47 L254.00,489.39 L254.70,491.02 L255.00,492.89 L255.40,491.37 L256.10,491.52 L256.80,491.72 L257.50,491.67 L258.20,491.29 L258.90,491.48 L259.60,491.90 L260.30,491.27 L261.00,491.93 L261.70,491.82 L262.40,492.06 L263.10,492.91 L263.80,493.31 L264.50,492.49 L265.20,493.14 L265.90,491.11 L266.50,492.14 L266.60,494.37 L267.30,491.94 L268.00,492.99 L268.70,492.21 L269.40,493.48 L270.10,492.68 L270.80,492.56 L271.50,494.40 L272.20,492.17 L272.90,493.75 L273.60,494.22 L274.30,493.42 L275.00,492.87 L275.70,494.99 L276.40,491.39 L277.10,492.35 L277.80,494.07 L278.50,493.32 L279.20,491.70 L279.90,493.96 L280.60,493.73 L281.00,491.91 L281.30,492.43 L282.00,494.73 L282.70,492.92 L283.40,492.63 L284.10,493.40 L284.80,492.75 L285.50,494.50 L286.20,491.47 L286.90,494.11 L287.60,494.72 L288.30,493.65 L289.00,495.52 L289.70,494.68 L290.40,495.05 L291.10,493.02 L291.80,492.07 L292.50,493.32 L293.20,492.88 L293.90,494.62 L294.60,493.24 L295.30,494.00 L296.00,491.46 L296.70,492.61 L297.40,494.45 L298.10,493.99 L298.80,495.60 L299.50,493.03 L300.20,492.10 L300.90,493.71 L301.60,493.22 L302.30,494.61 L303.00,493.47 L303.70,494.41 L304.40,493.22 L305.10,495.07 L305.80,494.45 L306.50,494.80 L307.20,493.48 L307.90,495.60 L308.60,492.35 L309.30,492.19 L310.00,494.55 L310.70,495.60 L311.40,492.36 L312.10,493.96 L312.80,494.53 L313.50,494.45 L314.20,494.36 L314.90,493.05 L315.60,494.37 L316.30,494.28 L317.00,493.95 L317.70,494.13 L318.40,495.35 L319.10,494.19 L319.80,495.49 L320.50,493.78 L321.20,495.09 L321.90,494.53 L322.60,494.15 L323.30,495.60 L324.00,495.37" fill="none" stroke="#1b2580" stroke-width="1.35" stroke-linejoin="round"/>
<rect x="63.8" y="285.5" width="260.7" height="210.3" fill="none" stroke="#444" stroke-width="1"/>
<line x1="63.8" y1="285.5" x2="63.8" y2="496.3" stroke="#111" stroke-width="1.1"/>
<line x1="63.8" y1="495.8" x2="324.5" y2="495.8" stroke="#111" stroke-width="1.1"/>
<line x1="61.10" y1="495.60" x2="63.8" y2="495.60" stroke="#222" stroke-width="1.1"/>
<text x="60.30" y="499.91" text-anchor="end" font-size="10.5" fill="#222" stroke="#222" stroke-width="0.25">0</text>
<line x1="62.40" y1="489.62" x2="63.8" y2="489.62" stroke="#222" stroke-width="0.95"/>
<line x1="62.40" y1="483.63" x2="63.8" y2="483.63" stroke="#222" stroke-width="0.95"/>
<line x1="62.40" y1="477.65" x2="63.8" y2="477.65" stroke="#222" stroke-width="0.95"/>
<line x1="62.40" y1="471.67" x2="63.8" y2="471.67" stroke="#222" stroke-width="0.95"/>
<line x1="61.10" y1="465.69" x2="63.8" y2="465.69" stroke="#222" stroke-width="1.1"/>
<text x="60.30" y="469.99" text-anchor="end" font-size="10.5" fill="#222" stroke="#222" stroke-width="0.25">20</text>
<line x1="62.40" y1="459.70" x2="63.8" y2="459.70" stroke="#222" stroke-width="0.95"/>
<line x1="62.40" y1="453.72" x2="63.8" y2="453.72" stroke="#222" stroke-width="0.95"/>
<line x1="62.40" y1="447.74" x2="63.8" y2="447.74" stroke="#222" stroke-width="0.95"/>
<line x1="62.40" y1="441.75" x2="63.8" y2="441.75" stroke="#222" stroke-width="0.95"/>
<line x1="61.10" y1="435.77" x2="63.8" y2="435.77" stroke="#222" stroke-width="1.1"/>
<text x="60.30" y="440.08" text-anchor="end" font-size="10.5" fill="#222" stroke="#222" stroke-width="0.25">40</text>
<line x1="62.40" y1="429.79" x2="63.8" y2="429.79" stroke="#222" stroke-width="0.95"/>
<line x1="62.40" y1="423.81" x2="63.8" y2="423.81" stroke="#222" stroke-width="0.95"/>
<line x1="62.40" y1="417.82" x2="63.8" y2="417.82" stroke="#222" stroke-width="0.95"/>
<line x1="62.40" y1="411.84" x2="63.8" y2="411.84" stroke="#222" stroke-width="0.95"/>
<line x1="61.10" y1="405.86" x2="63.8" y2="405.86" stroke="#222" stroke-width="1.1"/>
<text x="60.30" y="410.16" text-anchor="end" font-size="10.5" fill="#222" stroke="#222" stroke-width="0.25">60</text>
<line x1="62.40" y1="399.87" x2="63.8" y2="399.87" stroke="#222" stroke-width="0.95"/>
<line x1="62.40" y1="393.89" x2="63.8" y2="393.89" stroke="#222" stroke-width="0.95"/>
<line x1="62.40" y1="387.91" x2="63.8" y2="387.91" stroke="#222" stroke-width="0.95"/>
<line x1="62.40" y1="381.93" x2="63.8" y2="381.93" stroke="#222" stroke-width="0.95"/>
<line x1="61.10" y1="375.94" x2="63.8" y2="375.94" stroke="#222" stroke-width="1.1"/>
<text x="60.30" y="380.25" text-anchor="end" font-size="10.5" fill="#222" stroke="#222" stroke-width="0.25">80</text>
<line x1="62.40" y1="369.96" x2="63.8" y2="369.96" stroke="#222" stroke-width="0.95"/>
<line x1="62.40" y1="363.98" x2="63.8" y2="363.98" stroke="#222" stroke-width="0.95"/>
<line x1="62.40" y1="357.99" x2="63.8" y2="357.99" stroke="#222" stroke-width="0.95"/>
<line x1="62.40" y1="352.01" x2="63.8" y2="352.01" stroke="#222" stroke-width="0.95"/>
<line x1="61.10" y1="346.03" x2="63.8" y2="346.03" stroke="#222" stroke-width="1.1"/>
<text x="60.30" y="350.33" text-anchor="end" font-size="10.5" fill="#222" stroke="#222" stroke-width="0.25">100</text>
<line x1="62.40" y1="340.05" x2="63.8" y2="340.05" stroke="#222" stroke-width="0.95"/>
<line x1="62.40" y1="334.06" x2="63.8" y2="334.06" stroke="#222" stroke-width="0.95"/>
<line x1="62.40" y1="328.08" x2="63.8" y2="328.08" stroke="#222" stroke-width="0.95"/>
<line x1="62.40" y1="322.10" x2="63.8" y2="322.10" stroke="#222" stroke-width="0.95"/>
<line x1="61.10" y1="316.11" x2="63.8" y2="316.11" stroke="#222" stroke-width="1.1"/>
<text x="60.30" y="320.42" text-anchor="end" font-size="10.5" fill="#222" stroke="#222" stroke-width="0.25">120</text>
<line x1="62.40" y1="310.13" x2="63.8" y2="310.13" stroke="#222" stroke-width="0.95"/>
<line x1="62.40" y1="304.15" x2="63.8" y2="304.15" stroke="#222" stroke-width="0.95"/>
<line x1="62.40" y1="298.17" x2="63.8" y2="298.17" stroke="#222" stroke-width="0.95"/>
<line x1="62.40" y1="292.18" x2="63.8" y2="292.18" stroke="#222" stroke-width="0.95"/>
<line x1="61.10" y1="286.20" x2="63.8" y2="286.20" stroke="#222" stroke-width="1.1"/>
<text x="60.30" y="290.50" text-anchor="end" font-size="10.5" fill="#222" stroke="#222" stroke-width="0.25">140</text>
<line x1="63.80" y1="495.8" x2="63.80" y2="499.20" stroke="#222" stroke-width="0.7"/>
<line x1="83.42" y1="495.8" x2="83.42" y2="498.00" stroke="#222" stroke-width="0.7"/>
<line x1="94.90" y1="495.8" x2="94.90" y2="498.00" stroke="#222" stroke-width="0.7"/>
<line x1="103.04" y1="495.8" x2="103.04" y2="498.00" stroke="#222" stroke-width="0.7"/>
<line x1="109.36" y1="495.8" x2="109.36" y2="498.00" stroke="#222" stroke-width="0.7"/>
<line x1="114.52" y1="495.8" x2="114.52" y2="498.00" stroke="#222" stroke-width="0.7"/>
<line x1="118.88" y1="495.8" x2="118.88" y2="498.00" stroke="#222" stroke-width="0.7"/>
<line x1="122.66" y1="495.8" x2="122.66" y2="498.00" stroke="#222" stroke-width="0.7"/>
<line x1="125.99" y1="495.8" x2="125.99" y2="498.00" stroke="#222" stroke-width="0.7"/>
<line x1="128.97" y1="495.8" x2="128.97" y2="499.20" stroke="#222" stroke-width="0.7"/>
<line x1="148.59" y1="495.8" x2="148.59" y2="498.00" stroke="#222" stroke-width="0.7"/>
<line x1="160.07" y1="495.8" x2="160.07" y2="498.00" stroke="#222" stroke-width="0.7"/>
<line x1="168.21" y1="495.8" x2="168.21" y2="498.00" stroke="#222" stroke-width="0.7"/>
<line x1="174.53" y1="495.8" x2="174.53" y2="498.00" stroke="#222" stroke-width="0.7"/>
<line x1="179.69" y1="495.8" x2="179.69" y2="498.00" stroke="#222" stroke-width="0.7"/>
<line x1="184.05" y1="495.8" x2="184.05" y2="498.00" stroke="#222" stroke-width="0.7"/>
<line x1="187.83" y1="495.8" x2="187.83" y2="498.00" stroke="#222" stroke-width="0.7"/>
<line x1="191.17" y1="495.8" x2="191.17" y2="498.00" stroke="#222" stroke-width="0.7"/>
<line x1="194.15" y1="495.8" x2="194.15" y2="499.20" stroke="#222" stroke-width="0.7"/>
<line x1="213.77" y1="495.8" x2="213.77" y2="498.00" stroke="#222" stroke-width="0.7"/>
<line x1="225.25" y1="495.8" x2="225.25" y2="498.00" stroke="#222" stroke-width="0.7"/>
<line x1="233.39" y1="495.8" x2="233.39" y2="498.00" stroke="#222" stroke-width="0.7"/>
<line x1="239.71" y1="495.8" x2="239.71" y2="498.00" stroke="#222" stroke-width="0.7"/>
<line x1="244.87" y1="495.8" x2="244.87" y2="498.00" stroke="#222" stroke-width="0.7"/>
<line x1="249.23" y1="495.8" x2="249.23" y2="498.00" stroke="#222" stroke-width="0.7"/>
<line x1="253.01" y1="495.8" x2="253.01" y2="498.00" stroke="#222" stroke-width="0.7"/>
<line x1="256.34" y1="495.8" x2="256.34" y2="498.00" stroke="#222" stroke-width="0.7"/>
<line x1="259.32" y1="495.8" x2="259.32" y2="499.20" stroke="#222" stroke-width="0.7"/>
<line x1="278.94" y1="495.8" x2="278.94" y2="498.00" stroke="#222" stroke-width="0.7"/>
<line x1="290.42" y1="495.8" x2="290.42" y2="498.00" stroke="#222" stroke-width="0.7"/>
<line x1="298.56" y1="495.8" x2="298.56" y2="498.00" stroke="#222" stroke-width="0.7"/>
<line x1="304.88" y1="495.8" x2="304.88" y2="498.00" stroke="#222" stroke-width="0.7"/>
<line x1="310.04" y1="495.8" x2="310.04" y2="498.00" stroke="#222" stroke-width="0.7"/>
<line x1="314.40" y1="495.8" x2="314.40" y2="498.00" stroke="#222" stroke-width="0.7"/>
<line x1="318.18" y1="495.8" x2="318.18" y2="498.00" stroke="#222" stroke-width="0.7"/>
<line x1="321.52" y1="495.8" x2="321.52" y2="498.00" stroke="#222" stroke-width="0.7"/>
<line x1="324.50" y1="495.8" x2="324.50" y2="499.20" stroke="#222" stroke-width="0.7"/>
<text transform="translate(38.5,391) rotate(-90)" text-anchor="middle" font-size="11.2" fill="#222" stroke="#222" stroke-width="0.2">Counts</text>
<line x1="176" y1="328.7" x2="349.6" y2="328.7" stroke="#000" stroke-width="1.1"/>
<path d="M167.3,328.7 L178.8,323.1 L178.8,334.2 Z" fill="#000"/>
<line x1="272" y1="456.3" x2="349.6" y2="456.3" stroke="#000" stroke-width="1.1"/>
<path d="M263.1,456.3 L274.2,450.8 L274.2,461.9 Z" fill="#000"/>
<text x="-0.5" y="18.2" font-size="24.6" font-weight="bold" fill="#000">A</text>
<text x="266.2" y="18.8" font-size="25" font-weight="bold" fill="#000">B</text>
<text transform="translate(-0.1,296.7) scale(0.95,1)" font-size="25.5" font-weight="bold" fill="#000">C</text>
<text x="246.2" y="24.5" text-anchor="end" font-size="14" font-weight="bold" fill="#000">anti-CD11b</text>
<text x="245.8" y="158.75" text-anchor="end" font-size="14" font-weight="bold" fill="#000">anti-Mart IgG</text>
<text x="505" y="28.2" text-anchor="end" font-size="14" font-weight="bold" fill="#000">- CBRM 1/32</text>
<text x="504.4" y="157.9" text-anchor="end" font-size="14" font-weight="bold" fill="#000">+ CBRM 1/32</text>
<text x="145.3" y="260.2" text-anchor="middle" font-size="16.4" fill="#000">Log fluorescence</text>
<text x="411.1" y="259.6" text-anchor="middle" font-size="16.4" fill="#000">Log fluorescence</text>
<text transform="translate(12.8,118.7) rotate(-90)" text-anchor="middle" font-size="17.1" fill="#000">Cell number</text>
<text transform="translate(278.5,120.1) rotate(-90)" text-anchor="middle" font-size="17.0" fill="#000">Cell number</text>
<text transform="translate(15.6,383.8) rotate(-90)" text-anchor="middle" font-size="21.6" fill="#000">Cell number</text>
<text x="358.8" y="336.4" font-size="30" fill="#000">serum no. 2</text>
<text x="358.8" y="465.9" font-size="30" fill="#000">serum no. 1</text>
<text x="186.1" y="546.8" text-anchor="middle" font-size="21.35" fill="#000">Respiratory burst activity</text>
<text x="186.8" y="571.1" text-anchor="middle" font-size="21.45" fill="#000">(log fluorescence)</text></svg></body></html>
